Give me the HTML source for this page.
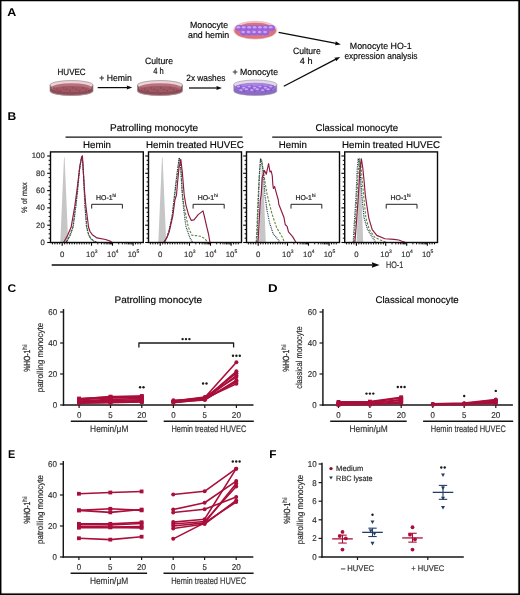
<!DOCTYPE html>
<html><head><meta charset="utf-8"><title>Figure</title>
<style>
html,body{margin:0;padding:0;background:#fff;width:520px;height:595px;overflow:hidden}
svg{display:block}
text{-webkit-font-smoothing:antialiased;text-rendering:geometricPrecision}
text{font-family:"Liberation Sans", sans-serif}
</style></head>
<body><svg style="will-change:transform" width="520" height="595" viewBox="0 0 520 595">
<rect x="0" y="0" width="520" height="595" fill="#fff"/>
<text x="7.29" y="15.75" font-size="11.2" textLength="9.03" lengthAdjust="spacingAndGlyphs" font-weight="bold" fill="#000">A</text>
<path d="M50.00,85.10 L50.00,90.90 A21.50,4.60 0 0 0 93.00,90.90 L93.00,85.10 Z" fill="#8a4c56" stroke="#8a8085" stroke-width="0.6"/>
<ellipse cx="71.50" cy="85.10" rx="21.50" ry="4.60" fill="#edd3d6" stroke="#8a8085" stroke-width="0.6"/>
<ellipse cx="71.50" cy="87.70" rx="20.10" ry="4.40" fill="#b8727b"/>
<ellipse cx="71.50" cy="89.10" rx="18.50" ry="3.00" fill="#98505c" opacity="0.75"/>
<ellipse cx="54.00" cy="87.90" rx="1.0" ry="0.6" fill="#7a3642" opacity="0.6"/>
<ellipse cx="57.20" cy="89.30" rx="1.0" ry="0.6" fill="#7a3642" opacity="0.6"/>
<ellipse cx="60.40" cy="90.70" rx="1.0" ry="0.6" fill="#7a3642" opacity="0.6"/>
<ellipse cx="63.60" cy="87.90" rx="1.0" ry="0.6" fill="#7a3642" opacity="0.6"/>
<ellipse cx="66.80" cy="89.30" rx="1.0" ry="0.6" fill="#7a3642" opacity="0.6"/>
<ellipse cx="70.00" cy="90.70" rx="1.0" ry="0.6" fill="#7a3642" opacity="0.6"/>
<ellipse cx="73.20" cy="87.90" rx="1.0" ry="0.6" fill="#7a3642" opacity="0.6"/>
<ellipse cx="76.40" cy="89.30" rx="1.0" ry="0.6" fill="#7a3642" opacity="0.6"/>
<ellipse cx="79.60" cy="90.70" rx="1.0" ry="0.6" fill="#7a3642" opacity="0.6"/>
<ellipse cx="82.80" cy="87.90" rx="1.0" ry="0.6" fill="#7a3642" opacity="0.6"/>
<ellipse cx="86.00" cy="89.30" rx="1.0" ry="0.6" fill="#7a3642" opacity="0.6"/>
<ellipse cx="89.20" cy="90.70" rx="1.0" ry="0.6" fill="#7a3642" opacity="0.6"/>
<path d="M51.00,91.40 A20.50,4.00 0 0 0 92.00,91.40" fill="none" stroke="#c4929b" stroke-width="0.6"/>
<path d="M137.50,85.10 L137.50,90.90 A22.50,4.60 0 0 0 182.50,90.90 L182.50,85.10 Z" fill="#8a4c56" stroke="#8a8085" stroke-width="0.6"/>
<ellipse cx="160.00" cy="85.10" rx="22.50" ry="4.60" fill="#edd3d6" stroke="#8a8085" stroke-width="0.6"/>
<ellipse cx="160.00" cy="87.70" rx="21.10" ry="4.40" fill="#b8727b"/>
<ellipse cx="160.00" cy="89.10" rx="19.50" ry="3.00" fill="#98505c" opacity="0.75"/>
<ellipse cx="141.50" cy="87.90" rx="1.0" ry="0.6" fill="#7a3642" opacity="0.6"/>
<ellipse cx="144.70" cy="89.30" rx="1.0" ry="0.6" fill="#7a3642" opacity="0.6"/>
<ellipse cx="147.90" cy="90.70" rx="1.0" ry="0.6" fill="#7a3642" opacity="0.6"/>
<ellipse cx="151.10" cy="87.90" rx="1.0" ry="0.6" fill="#7a3642" opacity="0.6"/>
<ellipse cx="154.30" cy="89.30" rx="1.0" ry="0.6" fill="#7a3642" opacity="0.6"/>
<ellipse cx="157.50" cy="90.70" rx="1.0" ry="0.6" fill="#7a3642" opacity="0.6"/>
<ellipse cx="160.70" cy="87.90" rx="1.0" ry="0.6" fill="#7a3642" opacity="0.6"/>
<ellipse cx="163.90" cy="89.30" rx="1.0" ry="0.6" fill="#7a3642" opacity="0.6"/>
<ellipse cx="167.10" cy="90.70" rx="1.0" ry="0.6" fill="#7a3642" opacity="0.6"/>
<ellipse cx="170.30" cy="87.90" rx="1.0" ry="0.6" fill="#7a3642" opacity="0.6"/>
<ellipse cx="173.50" cy="89.30" rx="1.0" ry="0.6" fill="#7a3642" opacity="0.6"/>
<ellipse cx="176.70" cy="90.70" rx="1.0" ry="0.6" fill="#7a3642" opacity="0.6"/>
<path d="M138.50,91.40 A21.50,4.00 0 0 0 181.50,91.40" fill="none" stroke="#c4929b" stroke-width="0.6"/>
<path d="M233.80,84.60 L233.80,90.90 A21.50,4.60 0 0 0 276.80,90.90 L276.80,84.60 Z" fill="#8a6cc0" stroke="#9a90a8" stroke-width="0.6"/>
<ellipse cx="255.30" cy="84.60" rx="21.50" ry="4.60" fill="#e4dae6" stroke="#9a90a8" stroke-width="0.6"/>
<ellipse cx="255.30" cy="87.20" rx="20.10" ry="4.40" fill="#a684e0"/>
<ellipse cx="239.00" cy="87.00" rx="3.1" ry="2.1" fill="#8c5cd6"/>
<ellipse cx="238.40" cy="86.40" rx="1.8" ry="1.0" fill="#c4aaf0"/>
<ellipse cx="244.40" cy="88.40" rx="3.1" ry="2.1" fill="#8c5cd6"/>
<ellipse cx="243.80" cy="87.80" rx="1.8" ry="1.0" fill="#c4aaf0"/>
<ellipse cx="249.80" cy="87.00" rx="3.1" ry="2.1" fill="#8c5cd6"/>
<ellipse cx="249.20" cy="86.40" rx="1.8" ry="1.0" fill="#c4aaf0"/>
<ellipse cx="255.20" cy="88.40" rx="3.1" ry="2.1" fill="#8c5cd6"/>
<ellipse cx="254.60" cy="87.80" rx="1.8" ry="1.0" fill="#c4aaf0"/>
<ellipse cx="260.60" cy="87.00" rx="3.1" ry="2.1" fill="#8c5cd6"/>
<ellipse cx="260.00" cy="86.40" rx="1.8" ry="1.0" fill="#c4aaf0"/>
<ellipse cx="266.00" cy="88.40" rx="3.1" ry="2.1" fill="#8c5cd6"/>
<ellipse cx="265.40" cy="87.80" rx="1.8" ry="1.0" fill="#c4aaf0"/>
<ellipse cx="271.40" cy="87.00" rx="3.1" ry="2.1" fill="#8c5cd6"/>
<ellipse cx="270.80" cy="86.40" rx="1.8" ry="1.0" fill="#c4aaf0"/>
<ellipse cx="241.60" cy="90.60" rx="3.0" ry="1.9" fill="#9464da"/>
<ellipse cx="241.00" cy="90.10" rx="1.7" ry="0.9" fill="#c8b0f2"/>
<circle cx="244.30" cy="91.00" r="0.7" fill="#6a3f58" opacity="0.8"/>
<ellipse cx="247.00" cy="89.70" rx="3.0" ry="1.9" fill="#9464da"/>
<ellipse cx="246.40" cy="89.20" rx="1.7" ry="0.9" fill="#c8b0f2"/>
<circle cx="249.70" cy="90.10" r="0.7" fill="#6a3f58" opacity="0.8"/>
<ellipse cx="252.40" cy="90.60" rx="3.0" ry="1.9" fill="#9464da"/>
<ellipse cx="251.80" cy="90.10" rx="1.7" ry="0.9" fill="#c8b0f2"/>
<circle cx="255.10" cy="91.00" r="0.7" fill="#6a3f58" opacity="0.8"/>
<ellipse cx="257.80" cy="89.70" rx="3.0" ry="1.9" fill="#9464da"/>
<ellipse cx="257.20" cy="89.20" rx="1.7" ry="0.9" fill="#c8b0f2"/>
<circle cx="260.50" cy="90.10" r="0.7" fill="#6a3f58" opacity="0.8"/>
<ellipse cx="263.20" cy="90.60" rx="3.0" ry="1.9" fill="#9464da"/>
<ellipse cx="262.60" cy="90.10" rx="1.7" ry="0.9" fill="#c8b0f2"/>
<circle cx="265.90" cy="91.00" r="0.7" fill="#6a3f58" opacity="0.8"/>
<ellipse cx="268.60" cy="89.70" rx="3.0" ry="1.9" fill="#9464da"/>
<ellipse cx="268.00" cy="89.20" rx="1.7" ry="0.9" fill="#c8b0f2"/>
<circle cx="271.30" cy="90.10" r="0.7" fill="#6a3f58" opacity="0.8"/>
<ellipse cx="255.25" cy="30.10" rx="22.05" ry="9.30" fill="#f0c4c6"/>
<ellipse cx="255.25" cy="30.80" rx="20.85" ry="8.00" fill="#d9727a"/>
<ellipse cx="255.25" cy="33.50" rx="16.05" ry="3.90" fill="#e4826e" opacity="0.6"/>
<ellipse cx="239.00" cy="28.00" rx="3.6" ry="3.0" fill="#9a62de"/>
<ellipse cx="244.40" cy="28.00" rx="3.6" ry="3.0" fill="#9a62de"/>
<ellipse cx="249.80" cy="28.00" rx="3.6" ry="3.0" fill="#9a62de"/>
<ellipse cx="255.20" cy="28.00" rx="3.6" ry="3.0" fill="#9a62de"/>
<ellipse cx="260.60" cy="28.00" rx="3.6" ry="3.0" fill="#9a62de"/>
<ellipse cx="266.00" cy="28.00" rx="3.6" ry="3.0" fill="#9a62de"/>
<ellipse cx="271.40" cy="28.00" rx="3.6" ry="3.0" fill="#9a62de"/>
<ellipse cx="238.30" cy="27.20" rx="1.9" ry="1.3" fill="#c6a6f2"/>
<ellipse cx="243.70" cy="27.20" rx="1.9" ry="1.3" fill="#c6a6f2"/>
<ellipse cx="249.10" cy="27.20" rx="1.9" ry="1.3" fill="#c6a6f2"/>
<ellipse cx="254.50" cy="27.20" rx="1.9" ry="1.3" fill="#c6a6f2"/>
<ellipse cx="259.90" cy="27.20" rx="1.9" ry="1.3" fill="#c6a6f2"/>
<ellipse cx="265.30" cy="27.20" rx="1.9" ry="1.3" fill="#c6a6f2"/>
<ellipse cx="270.70" cy="27.20" rx="1.9" ry="1.3" fill="#c6a6f2"/>
<ellipse cx="243.80" cy="32.80" rx="3.6" ry="2.8" fill="#9a62de"/>
<ellipse cx="249.30" cy="32.80" rx="3.6" ry="2.8" fill="#9a62de"/>
<ellipse cx="254.80" cy="32.80" rx="3.6" ry="2.8" fill="#9a62de"/>
<ellipse cx="260.30" cy="32.80" rx="3.6" ry="2.8" fill="#9a62de"/>
<ellipse cx="265.80" cy="32.80" rx="3.6" ry="2.8" fill="#9a62de"/>
<ellipse cx="243.10" cy="32.00" rx="1.9" ry="1.2" fill="#c6a6f2"/>
<ellipse cx="248.60" cy="32.00" rx="1.9" ry="1.2" fill="#c6a6f2"/>
<ellipse cx="254.10" cy="32.00" rx="1.9" ry="1.2" fill="#c6a6f2"/>
<ellipse cx="259.60" cy="32.00" rx="1.9" ry="1.2" fill="#c6a6f2"/>
<ellipse cx="265.10" cy="32.00" rx="1.9" ry="1.2" fill="#c6a6f2"/>
<text x="190.00" y="27.90" font-size="9.1" textLength="38.20" lengthAdjust="spacingAndGlyphs" stroke="#231f20" stroke-width="0.18">Monocyte</text>
<text x="188.00" y="38.20" font-size="9.1" textLength="41.20" lengthAdjust="spacingAndGlyphs" stroke="#231f20" stroke-width="0.18">and hemin</text>
<text x="57.50" y="74.90" font-size="9.1" textLength="28.20" lengthAdjust="spacingAndGlyphs" stroke="#231f20" stroke-width="0.18">HUVEC</text>
<text x="99.30" y="81.20" font-size="9.1" textLength="32.50" lengthAdjust="spacingAndGlyphs" stroke="#231f20" stroke-width="0.18">+ Hemin</text>
<text x="145.00" y="63.70" font-size="9.1" textLength="28.00" lengthAdjust="spacingAndGlyphs" stroke="#231f20" stroke-width="0.18">Culture</text>
<text x="153.30" y="74.40" font-size="9.1" textLength="10.50" lengthAdjust="spacingAndGlyphs" stroke="#231f20" stroke-width="0.18">4 h</text>
<text x="186.30" y="81.40" font-size="9.1" textLength="39.20" lengthAdjust="spacingAndGlyphs" stroke="#231f20" stroke-width="0.18">2x washes</text>
<text x="232.50" y="74.90" font-size="9.1" textLength="45.50" lengthAdjust="spacingAndGlyphs" stroke="#231f20" stroke-width="0.18">+ Monocyte</text>
<text x="293.00" y="53.70" font-size="9.1" textLength="27.80" lengthAdjust="spacingAndGlyphs" stroke="#231f20" stroke-width="0.18">Culture</text>
<text x="299.80" y="63.90" font-size="9.1" textLength="12.70" lengthAdjust="spacingAndGlyphs" stroke="#231f20" stroke-width="0.18">4 h</text>
<text x="349.80" y="49.10" font-size="9.1" textLength="61.90" lengthAdjust="spacingAndGlyphs" stroke="#231f20" stroke-width="0.18">Monocyte HO-1</text>
<text x="344.40" y="59.30" font-size="9.1" textLength="73.10" lengthAdjust="spacingAndGlyphs" stroke="#231f20" stroke-width="0.18">expression analysis</text>
<line x1="97.70" y1="87.60" x2="127.50" y2="87.60" stroke="#0a0a0a" stroke-width="1.25"/>
<path d="M132.30,87.60 L126.70,89.60 L127.15,87.60 L126.70,85.60 Z" fill="#0a0a0a"/>
<line x1="189.00" y1="88.00" x2="217.20" y2="88.00" stroke="#0a0a0a" stroke-width="1.25"/>
<path d="M222.00,88.00 L216.40,90.00 L216.85,88.00 L216.40,86.00 Z" fill="#0a0a0a"/>
<line x1="278.60" y1="32.30" x2="336.09" y2="43.48" stroke="#0a0a0a" stroke-width="1.25"/>
<path d="M340.80,44.40 L334.92,45.29 L335.74,43.42 L335.68,41.37 Z" fill="#0a0a0a"/>
<line x1="283.80" y1="86.20" x2="335.94" y2="59.11" stroke="#0a0a0a" stroke-width="1.25"/>
<path d="M340.20,56.90 L336.15,61.26 L335.63,59.28 L334.31,57.71 Z" fill="#0a0a0a"/>
<text x="7.50" y="120.00" font-size="11.2" textLength="8.74" lengthAdjust="spacingAndGlyphs" font-weight="bold" fill="#000">B</text>
<text x="110.00" y="131.00" font-size="9.8" textLength="88.00" lengthAdjust="spacingAndGlyphs" stroke="#231f20" stroke-width="0.18">Patrolling monocyte</text>
<text x="315.50" y="131.00" font-size="9.8" textLength="82.50" lengthAdjust="spacingAndGlyphs" stroke="#231f20" stroke-width="0.18">Classical monocyte</text>
<line x1="65.50" y1="137.20" x2="242.50" y2="137.20" stroke="#111" stroke-width="1.2"/>
<line x1="272.20" y1="137.20" x2="441.80" y2="137.20" stroke="#111" stroke-width="1.2"/>
<text x="83.00" y="148.00" font-size="9.8" textLength="28.00" lengthAdjust="spacingAndGlyphs" stroke="#231f20" stroke-width="0.18">Hemin</text>
<text x="146.00" y="148.00" font-size="9.8" textLength="97.80" lengthAdjust="spacingAndGlyphs" stroke="#231f20" stroke-width="0.18">Hemin treated HUVEC</text>
<text x="278.80" y="148.00" font-size="9.8" textLength="28.00" lengthAdjust="spacingAndGlyphs" stroke="#231f20" stroke-width="0.18">Hemin</text>
<text x="342.00" y="148.00" font-size="9.8" textLength="98.00" lengthAdjust="spacingAndGlyphs" stroke="#231f20" stroke-width="0.18">Hemin treated HUVEC</text>
<line x1="47.20" y1="242.50" x2="50.50" y2="242.50" stroke="#000" stroke-width="1.1"/>
<line x1="48.60" y1="238.18" x2="50.50" y2="238.18" stroke="#000" stroke-width="1.0"/>
<line x1="48.60" y1="233.85" x2="50.50" y2="233.85" stroke="#000" stroke-width="1.0"/>
<line x1="48.60" y1="229.53" x2="50.50" y2="229.53" stroke="#000" stroke-width="1.0"/>
<line x1="47.20" y1="225.20" x2="50.50" y2="225.20" stroke="#000" stroke-width="1.1"/>
<line x1="48.60" y1="220.88" x2="50.50" y2="220.88" stroke="#000" stroke-width="1.0"/>
<line x1="48.60" y1="216.55" x2="50.50" y2="216.55" stroke="#000" stroke-width="1.0"/>
<line x1="48.60" y1="212.22" x2="50.50" y2="212.22" stroke="#000" stroke-width="1.0"/>
<line x1="47.20" y1="207.90" x2="50.50" y2="207.90" stroke="#000" stroke-width="1.1"/>
<line x1="48.60" y1="203.57" x2="50.50" y2="203.57" stroke="#000" stroke-width="1.0"/>
<line x1="48.60" y1="199.25" x2="50.50" y2="199.25" stroke="#000" stroke-width="1.0"/>
<line x1="48.60" y1="194.93" x2="50.50" y2="194.93" stroke="#000" stroke-width="1.0"/>
<line x1="47.20" y1="190.60" x2="50.50" y2="190.60" stroke="#000" stroke-width="1.1"/>
<line x1="48.60" y1="186.28" x2="50.50" y2="186.28" stroke="#000" stroke-width="1.0"/>
<line x1="48.60" y1="181.95" x2="50.50" y2="181.95" stroke="#000" stroke-width="1.0"/>
<line x1="48.60" y1="177.62" x2="50.50" y2="177.62" stroke="#000" stroke-width="1.0"/>
<line x1="47.20" y1="173.30" x2="50.50" y2="173.30" stroke="#000" stroke-width="1.1"/>
<line x1="48.60" y1="168.97" x2="50.50" y2="168.97" stroke="#000" stroke-width="1.0"/>
<line x1="48.60" y1="164.65" x2="50.50" y2="164.65" stroke="#000" stroke-width="1.0"/>
<line x1="48.60" y1="160.32" x2="50.50" y2="160.32" stroke="#000" stroke-width="1.0"/>
<line x1="47.20" y1="156.00" x2="50.50" y2="156.00" stroke="#000" stroke-width="1.1"/>
<line x1="145.20" y1="242.50" x2="148.50" y2="242.50" stroke="#000" stroke-width="1.1"/>
<line x1="146.60" y1="238.18" x2="148.50" y2="238.18" stroke="#000" stroke-width="1.0"/>
<line x1="146.60" y1="233.85" x2="148.50" y2="233.85" stroke="#000" stroke-width="1.0"/>
<line x1="146.60" y1="229.53" x2="148.50" y2="229.53" stroke="#000" stroke-width="1.0"/>
<line x1="145.20" y1="225.20" x2="148.50" y2="225.20" stroke="#000" stroke-width="1.1"/>
<line x1="146.60" y1="220.88" x2="148.50" y2="220.88" stroke="#000" stroke-width="1.0"/>
<line x1="146.60" y1="216.55" x2="148.50" y2="216.55" stroke="#000" stroke-width="1.0"/>
<line x1="146.60" y1="212.22" x2="148.50" y2="212.22" stroke="#000" stroke-width="1.0"/>
<line x1="145.20" y1="207.90" x2="148.50" y2="207.90" stroke="#000" stroke-width="1.1"/>
<line x1="146.60" y1="203.57" x2="148.50" y2="203.57" stroke="#000" stroke-width="1.0"/>
<line x1="146.60" y1="199.25" x2="148.50" y2="199.25" stroke="#000" stroke-width="1.0"/>
<line x1="146.60" y1="194.93" x2="148.50" y2="194.93" stroke="#000" stroke-width="1.0"/>
<line x1="145.20" y1="190.60" x2="148.50" y2="190.60" stroke="#000" stroke-width="1.1"/>
<line x1="146.60" y1="186.28" x2="148.50" y2="186.28" stroke="#000" stroke-width="1.0"/>
<line x1="146.60" y1="181.95" x2="148.50" y2="181.95" stroke="#000" stroke-width="1.0"/>
<line x1="146.60" y1="177.62" x2="148.50" y2="177.62" stroke="#000" stroke-width="1.0"/>
<line x1="145.20" y1="173.30" x2="148.50" y2="173.30" stroke="#000" stroke-width="1.1"/>
<line x1="146.60" y1="168.97" x2="148.50" y2="168.97" stroke="#000" stroke-width="1.0"/>
<line x1="146.60" y1="164.65" x2="148.50" y2="164.65" stroke="#000" stroke-width="1.0"/>
<line x1="146.60" y1="160.32" x2="148.50" y2="160.32" stroke="#000" stroke-width="1.0"/>
<line x1="145.20" y1="156.00" x2="148.50" y2="156.00" stroke="#000" stroke-width="1.1"/>
<line x1="243.20" y1="242.50" x2="246.50" y2="242.50" stroke="#000" stroke-width="1.1"/>
<line x1="244.60" y1="238.18" x2="246.50" y2="238.18" stroke="#000" stroke-width="1.0"/>
<line x1="244.60" y1="233.85" x2="246.50" y2="233.85" stroke="#000" stroke-width="1.0"/>
<line x1="244.60" y1="229.53" x2="246.50" y2="229.53" stroke="#000" stroke-width="1.0"/>
<line x1="243.20" y1="225.20" x2="246.50" y2="225.20" stroke="#000" stroke-width="1.1"/>
<line x1="244.60" y1="220.88" x2="246.50" y2="220.88" stroke="#000" stroke-width="1.0"/>
<line x1="244.60" y1="216.55" x2="246.50" y2="216.55" stroke="#000" stroke-width="1.0"/>
<line x1="244.60" y1="212.22" x2="246.50" y2="212.22" stroke="#000" stroke-width="1.0"/>
<line x1="243.20" y1="207.90" x2="246.50" y2="207.90" stroke="#000" stroke-width="1.1"/>
<line x1="244.60" y1="203.57" x2="246.50" y2="203.57" stroke="#000" stroke-width="1.0"/>
<line x1="244.60" y1="199.25" x2="246.50" y2="199.25" stroke="#000" stroke-width="1.0"/>
<line x1="244.60" y1="194.93" x2="246.50" y2="194.93" stroke="#000" stroke-width="1.0"/>
<line x1="243.20" y1="190.60" x2="246.50" y2="190.60" stroke="#000" stroke-width="1.1"/>
<line x1="244.60" y1="186.28" x2="246.50" y2="186.28" stroke="#000" stroke-width="1.0"/>
<line x1="244.60" y1="181.95" x2="246.50" y2="181.95" stroke="#000" stroke-width="1.0"/>
<line x1="244.60" y1="177.62" x2="246.50" y2="177.62" stroke="#000" stroke-width="1.0"/>
<line x1="243.20" y1="173.30" x2="246.50" y2="173.30" stroke="#000" stroke-width="1.1"/>
<line x1="244.60" y1="168.97" x2="246.50" y2="168.97" stroke="#000" stroke-width="1.0"/>
<line x1="244.60" y1="164.65" x2="246.50" y2="164.65" stroke="#000" stroke-width="1.0"/>
<line x1="244.60" y1="160.32" x2="246.50" y2="160.32" stroke="#000" stroke-width="1.0"/>
<line x1="243.20" y1="156.00" x2="246.50" y2="156.00" stroke="#000" stroke-width="1.1"/>
<line x1="341.40" y1="242.50" x2="344.70" y2="242.50" stroke="#000" stroke-width="1.1"/>
<line x1="342.80" y1="238.18" x2="344.70" y2="238.18" stroke="#000" stroke-width="1.0"/>
<line x1="342.80" y1="233.85" x2="344.70" y2="233.85" stroke="#000" stroke-width="1.0"/>
<line x1="342.80" y1="229.53" x2="344.70" y2="229.53" stroke="#000" stroke-width="1.0"/>
<line x1="341.40" y1="225.20" x2="344.70" y2="225.20" stroke="#000" stroke-width="1.1"/>
<line x1="342.80" y1="220.88" x2="344.70" y2="220.88" stroke="#000" stroke-width="1.0"/>
<line x1="342.80" y1="216.55" x2="344.70" y2="216.55" stroke="#000" stroke-width="1.0"/>
<line x1="342.80" y1="212.22" x2="344.70" y2="212.22" stroke="#000" stroke-width="1.0"/>
<line x1="341.40" y1="207.90" x2="344.70" y2="207.90" stroke="#000" stroke-width="1.1"/>
<line x1="342.80" y1="203.57" x2="344.70" y2="203.57" stroke="#000" stroke-width="1.0"/>
<line x1="342.80" y1="199.25" x2="344.70" y2="199.25" stroke="#000" stroke-width="1.0"/>
<line x1="342.80" y1="194.93" x2="344.70" y2="194.93" stroke="#000" stroke-width="1.0"/>
<line x1="341.40" y1="190.60" x2="344.70" y2="190.60" stroke="#000" stroke-width="1.1"/>
<line x1="342.80" y1="186.28" x2="344.70" y2="186.28" stroke="#000" stroke-width="1.0"/>
<line x1="342.80" y1="181.95" x2="344.70" y2="181.95" stroke="#000" stroke-width="1.0"/>
<line x1="342.80" y1="177.62" x2="344.70" y2="177.62" stroke="#000" stroke-width="1.0"/>
<line x1="341.40" y1="173.30" x2="344.70" y2="173.30" stroke="#000" stroke-width="1.1"/>
<line x1="342.80" y1="168.97" x2="344.70" y2="168.97" stroke="#000" stroke-width="1.0"/>
<line x1="342.80" y1="164.65" x2="344.70" y2="164.65" stroke="#000" stroke-width="1.0"/>
<line x1="342.80" y1="160.32" x2="344.70" y2="160.32" stroke="#000" stroke-width="1.0"/>
<line x1="341.40" y1="156.00" x2="344.70" y2="156.00" stroke="#000" stroke-width="1.1"/>
<text x="44.80" y="158.30" font-size="7.8" text-anchor="end" fill="#333" stroke="#333" stroke-width="0.18">100</text>
<text x="44.80" y="175.60" font-size="7.8" text-anchor="end" fill="#333" stroke="#333" stroke-width="0.18">80</text>
<text x="44.80" y="192.90" font-size="7.8" text-anchor="end" fill="#333" stroke="#333" stroke-width="0.18">60</text>
<text x="44.80" y="210.20" font-size="7.8" text-anchor="end" fill="#333" stroke="#333" stroke-width="0.18">40</text>
<text x="44.80" y="227.50" font-size="7.8" text-anchor="end" fill="#333" stroke="#333" stroke-width="0.18">20</text>
<text x="44.80" y="244.80" font-size="7.8" text-anchor="end" fill="#333" stroke="#333" stroke-width="0.18">0</text>
<text x="27.40" y="197.60" font-size="7.9" textLength="30.70" lengthAdjust="spacingAndGlyphs" text-anchor="middle" fill="#333" stroke="#333" stroke-width="0.18" transform="rotate(-90 27.40 197.60)">% of max</text>
<line x1="62.20" y1="242.50" x2="62.20" y2="245.70" stroke="#000" stroke-width="1.1"/>
<line x1="91.50" y1="242.50" x2="91.50" y2="245.70" stroke="#000" stroke-width="1.1"/>
<line x1="112.50" y1="242.50" x2="112.50" y2="245.70" stroke="#000" stroke-width="1.1"/>
<line x1="133.10" y1="242.50" x2="133.10" y2="245.70" stroke="#000" stroke-width="1.1"/>
<line x1="97.82" y1="242.50" x2="97.82" y2="244.40" stroke="#111" stroke-width="1.0"/>
<line x1="101.52" y1="242.50" x2="101.52" y2="244.40" stroke="#111" stroke-width="1.0"/>
<line x1="104.14" y1="242.50" x2="104.14" y2="244.40" stroke="#111" stroke-width="1.0"/>
<line x1="106.18" y1="242.50" x2="106.18" y2="244.40" stroke="#111" stroke-width="1.0"/>
<line x1="107.84" y1="242.50" x2="107.84" y2="244.40" stroke="#111" stroke-width="1.0"/>
<line x1="109.25" y1="242.50" x2="109.25" y2="244.40" stroke="#111" stroke-width="1.0"/>
<line x1="110.46" y1="242.50" x2="110.46" y2="244.40" stroke="#111" stroke-width="1.0"/>
<line x1="111.54" y1="242.50" x2="111.54" y2="244.40" stroke="#111" stroke-width="1.0"/>
<line x1="118.70" y1="242.50" x2="118.70" y2="244.40" stroke="#111" stroke-width="1.0"/>
<line x1="122.33" y1="242.50" x2="122.33" y2="244.40" stroke="#111" stroke-width="1.0"/>
<line x1="124.90" y1="242.50" x2="124.90" y2="244.40" stroke="#111" stroke-width="1.0"/>
<line x1="126.90" y1="242.50" x2="126.90" y2="244.40" stroke="#111" stroke-width="1.0"/>
<line x1="128.53" y1="242.50" x2="128.53" y2="244.40" stroke="#111" stroke-width="1.0"/>
<line x1="129.91" y1="242.50" x2="129.91" y2="244.40" stroke="#111" stroke-width="1.0"/>
<line x1="131.10" y1="242.50" x2="131.10" y2="244.40" stroke="#111" stroke-width="1.0"/>
<line x1="132.16" y1="242.50" x2="132.16" y2="244.40" stroke="#111" stroke-width="1.0"/>
<line x1="52.40" y1="242.50" x2="52.40" y2="244.40" stroke="#111" stroke-width="1.0"/>
<line x1="54.85" y1="242.50" x2="54.85" y2="244.40" stroke="#111" stroke-width="1.0"/>
<line x1="57.30" y1="242.50" x2="57.30" y2="244.40" stroke="#111" stroke-width="1.0"/>
<line x1="59.75" y1="242.50" x2="59.75" y2="244.40" stroke="#111" stroke-width="1.0"/>
<line x1="64.65" y1="242.50" x2="64.65" y2="244.40" stroke="#111" stroke-width="1.0"/>
<line x1="67.10" y1="242.50" x2="67.10" y2="244.40" stroke="#111" stroke-width="1.0"/>
<line x1="69.55" y1="242.50" x2="69.55" y2="244.40" stroke="#111" stroke-width="1.0"/>
<line x1="72.00" y1="242.50" x2="72.00" y2="244.40" stroke="#111" stroke-width="1.0"/>
<line x1="74.45" y1="242.50" x2="74.45" y2="244.40" stroke="#111" stroke-width="1.0"/>
<line x1="76.90" y1="242.50" x2="76.90" y2="244.40" stroke="#111" stroke-width="1.0"/>
<line x1="79.35" y1="242.50" x2="79.35" y2="244.40" stroke="#111" stroke-width="1.0"/>
<line x1="81.80" y1="242.50" x2="81.80" y2="244.40" stroke="#111" stroke-width="1.0"/>
<line x1="84.25" y1="242.50" x2="84.25" y2="244.40" stroke="#111" stroke-width="1.0"/>
<line x1="86.70" y1="242.50" x2="86.70" y2="244.40" stroke="#111" stroke-width="1.0"/>
<line x1="89.15" y1="242.50" x2="89.15" y2="244.40" stroke="#111" stroke-width="1.0"/>
<line x1="135.50" y1="242.50" x2="135.50" y2="244.40" stroke="#111" stroke-width="1.0"/>
<line x1="137.90" y1="242.50" x2="137.90" y2="244.40" stroke="#111" stroke-width="1.0"/>
<line x1="140.30" y1="242.50" x2="140.30" y2="244.40" stroke="#111" stroke-width="1.0"/>
<text x="62.20" y="256.70" font-size="7.8" text-anchor="middle" fill="#333" stroke="#333" stroke-width="0.18">0</text>
<text x="86.10" y="256.7" font-size="7.8" fill="#333" stroke="#333" stroke-width="0.15">10<tspan font-size="5.0" dy="-3.6">3</tspan></text>
<text x="107.10" y="256.7" font-size="7.8" fill="#333" stroke="#333" stroke-width="0.15">10<tspan font-size="5.0" dy="-3.6">4</tspan></text>
<text x="127.70" y="256.7" font-size="7.8" fill="#333" stroke="#333" stroke-width="0.15">10<tspan font-size="5.0" dy="-3.6">5</tspan></text>
<line x1="160.20" y1="242.50" x2="160.20" y2="245.70" stroke="#000" stroke-width="1.1"/>
<line x1="189.50" y1="242.50" x2="189.50" y2="245.70" stroke="#000" stroke-width="1.1"/>
<line x1="210.50" y1="242.50" x2="210.50" y2="245.70" stroke="#000" stroke-width="1.1"/>
<line x1="231.10" y1="242.50" x2="231.10" y2="245.70" stroke="#000" stroke-width="1.1"/>
<line x1="195.82" y1="242.50" x2="195.82" y2="244.40" stroke="#111" stroke-width="1.0"/>
<line x1="199.52" y1="242.50" x2="199.52" y2="244.40" stroke="#111" stroke-width="1.0"/>
<line x1="202.14" y1="242.50" x2="202.14" y2="244.40" stroke="#111" stroke-width="1.0"/>
<line x1="204.18" y1="242.50" x2="204.18" y2="244.40" stroke="#111" stroke-width="1.0"/>
<line x1="205.84" y1="242.50" x2="205.84" y2="244.40" stroke="#111" stroke-width="1.0"/>
<line x1="207.25" y1="242.50" x2="207.25" y2="244.40" stroke="#111" stroke-width="1.0"/>
<line x1="208.46" y1="242.50" x2="208.46" y2="244.40" stroke="#111" stroke-width="1.0"/>
<line x1="209.54" y1="242.50" x2="209.54" y2="244.40" stroke="#111" stroke-width="1.0"/>
<line x1="216.70" y1="242.50" x2="216.70" y2="244.40" stroke="#111" stroke-width="1.0"/>
<line x1="220.33" y1="242.50" x2="220.33" y2="244.40" stroke="#111" stroke-width="1.0"/>
<line x1="222.90" y1="242.50" x2="222.90" y2="244.40" stroke="#111" stroke-width="1.0"/>
<line x1="224.90" y1="242.50" x2="224.90" y2="244.40" stroke="#111" stroke-width="1.0"/>
<line x1="226.53" y1="242.50" x2="226.53" y2="244.40" stroke="#111" stroke-width="1.0"/>
<line x1="227.91" y1="242.50" x2="227.91" y2="244.40" stroke="#111" stroke-width="1.0"/>
<line x1="229.10" y1="242.50" x2="229.10" y2="244.40" stroke="#111" stroke-width="1.0"/>
<line x1="230.16" y1="242.50" x2="230.16" y2="244.40" stroke="#111" stroke-width="1.0"/>
<line x1="150.40" y1="242.50" x2="150.40" y2="244.40" stroke="#111" stroke-width="1.0"/>
<line x1="152.85" y1="242.50" x2="152.85" y2="244.40" stroke="#111" stroke-width="1.0"/>
<line x1="155.30" y1="242.50" x2="155.30" y2="244.40" stroke="#111" stroke-width="1.0"/>
<line x1="157.75" y1="242.50" x2="157.75" y2="244.40" stroke="#111" stroke-width="1.0"/>
<line x1="162.65" y1="242.50" x2="162.65" y2="244.40" stroke="#111" stroke-width="1.0"/>
<line x1="165.10" y1="242.50" x2="165.10" y2="244.40" stroke="#111" stroke-width="1.0"/>
<line x1="167.55" y1="242.50" x2="167.55" y2="244.40" stroke="#111" stroke-width="1.0"/>
<line x1="170.00" y1="242.50" x2="170.00" y2="244.40" stroke="#111" stroke-width="1.0"/>
<line x1="172.45" y1="242.50" x2="172.45" y2="244.40" stroke="#111" stroke-width="1.0"/>
<line x1="174.90" y1="242.50" x2="174.90" y2="244.40" stroke="#111" stroke-width="1.0"/>
<line x1="177.35" y1="242.50" x2="177.35" y2="244.40" stroke="#111" stroke-width="1.0"/>
<line x1="179.80" y1="242.50" x2="179.80" y2="244.40" stroke="#111" stroke-width="1.0"/>
<line x1="182.25" y1="242.50" x2="182.25" y2="244.40" stroke="#111" stroke-width="1.0"/>
<line x1="184.70" y1="242.50" x2="184.70" y2="244.40" stroke="#111" stroke-width="1.0"/>
<line x1="187.15" y1="242.50" x2="187.15" y2="244.40" stroke="#111" stroke-width="1.0"/>
<line x1="233.50" y1="242.50" x2="233.50" y2="244.40" stroke="#111" stroke-width="1.0"/>
<line x1="235.90" y1="242.50" x2="235.90" y2="244.40" stroke="#111" stroke-width="1.0"/>
<line x1="238.30" y1="242.50" x2="238.30" y2="244.40" stroke="#111" stroke-width="1.0"/>
<text x="160.20" y="256.70" font-size="7.8" text-anchor="middle" fill="#333" stroke="#333" stroke-width="0.18">0</text>
<text x="184.10" y="256.7" font-size="7.8" fill="#333" stroke="#333" stroke-width="0.15">10<tspan font-size="5.0" dy="-3.6">3</tspan></text>
<text x="205.10" y="256.7" font-size="7.8" fill="#333" stroke="#333" stroke-width="0.15">10<tspan font-size="5.0" dy="-3.6">4</tspan></text>
<text x="225.70" y="256.7" font-size="7.8" fill="#333" stroke="#333" stroke-width="0.15">10<tspan font-size="5.0" dy="-3.6">5</tspan></text>
<line x1="258.20" y1="242.50" x2="258.20" y2="245.70" stroke="#000" stroke-width="1.1"/>
<line x1="287.50" y1="242.50" x2="287.50" y2="245.70" stroke="#000" stroke-width="1.1"/>
<line x1="308.50" y1="242.50" x2="308.50" y2="245.70" stroke="#000" stroke-width="1.1"/>
<line x1="329.10" y1="242.50" x2="329.10" y2="245.70" stroke="#000" stroke-width="1.1"/>
<line x1="293.82" y1="242.50" x2="293.82" y2="244.40" stroke="#111" stroke-width="1.0"/>
<line x1="297.52" y1="242.50" x2="297.52" y2="244.40" stroke="#111" stroke-width="1.0"/>
<line x1="300.14" y1="242.50" x2="300.14" y2="244.40" stroke="#111" stroke-width="1.0"/>
<line x1="302.18" y1="242.50" x2="302.18" y2="244.40" stroke="#111" stroke-width="1.0"/>
<line x1="303.84" y1="242.50" x2="303.84" y2="244.40" stroke="#111" stroke-width="1.0"/>
<line x1="305.25" y1="242.50" x2="305.25" y2="244.40" stroke="#111" stroke-width="1.0"/>
<line x1="306.46" y1="242.50" x2="306.46" y2="244.40" stroke="#111" stroke-width="1.0"/>
<line x1="307.54" y1="242.50" x2="307.54" y2="244.40" stroke="#111" stroke-width="1.0"/>
<line x1="314.70" y1="242.50" x2="314.70" y2="244.40" stroke="#111" stroke-width="1.0"/>
<line x1="318.33" y1="242.50" x2="318.33" y2="244.40" stroke="#111" stroke-width="1.0"/>
<line x1="320.90" y1="242.50" x2="320.90" y2="244.40" stroke="#111" stroke-width="1.0"/>
<line x1="322.90" y1="242.50" x2="322.90" y2="244.40" stroke="#111" stroke-width="1.0"/>
<line x1="324.53" y1="242.50" x2="324.53" y2="244.40" stroke="#111" stroke-width="1.0"/>
<line x1="325.91" y1="242.50" x2="325.91" y2="244.40" stroke="#111" stroke-width="1.0"/>
<line x1="327.10" y1="242.50" x2="327.10" y2="244.40" stroke="#111" stroke-width="1.0"/>
<line x1="328.16" y1="242.50" x2="328.16" y2="244.40" stroke="#111" stroke-width="1.0"/>
<line x1="248.40" y1="242.50" x2="248.40" y2="244.40" stroke="#111" stroke-width="1.0"/>
<line x1="250.85" y1="242.50" x2="250.85" y2="244.40" stroke="#111" stroke-width="1.0"/>
<line x1="253.30" y1="242.50" x2="253.30" y2="244.40" stroke="#111" stroke-width="1.0"/>
<line x1="255.75" y1="242.50" x2="255.75" y2="244.40" stroke="#111" stroke-width="1.0"/>
<line x1="260.65" y1="242.50" x2="260.65" y2="244.40" stroke="#111" stroke-width="1.0"/>
<line x1="263.10" y1="242.50" x2="263.10" y2="244.40" stroke="#111" stroke-width="1.0"/>
<line x1="265.55" y1="242.50" x2="265.55" y2="244.40" stroke="#111" stroke-width="1.0"/>
<line x1="268.00" y1="242.50" x2="268.00" y2="244.40" stroke="#111" stroke-width="1.0"/>
<line x1="270.45" y1="242.50" x2="270.45" y2="244.40" stroke="#111" stroke-width="1.0"/>
<line x1="272.90" y1="242.50" x2="272.90" y2="244.40" stroke="#111" stroke-width="1.0"/>
<line x1="275.35" y1="242.50" x2="275.35" y2="244.40" stroke="#111" stroke-width="1.0"/>
<line x1="277.80" y1="242.50" x2="277.80" y2="244.40" stroke="#111" stroke-width="1.0"/>
<line x1="280.25" y1="242.50" x2="280.25" y2="244.40" stroke="#111" stroke-width="1.0"/>
<line x1="282.70" y1="242.50" x2="282.70" y2="244.40" stroke="#111" stroke-width="1.0"/>
<line x1="285.15" y1="242.50" x2="285.15" y2="244.40" stroke="#111" stroke-width="1.0"/>
<line x1="331.50" y1="242.50" x2="331.50" y2="244.40" stroke="#111" stroke-width="1.0"/>
<line x1="333.90" y1="242.50" x2="333.90" y2="244.40" stroke="#111" stroke-width="1.0"/>
<line x1="336.30" y1="242.50" x2="336.30" y2="244.40" stroke="#111" stroke-width="1.0"/>
<text x="258.20" y="256.70" font-size="7.8" text-anchor="middle" fill="#333" stroke="#333" stroke-width="0.18">0</text>
<text x="282.10" y="256.7" font-size="7.8" fill="#333" stroke="#333" stroke-width="0.15">10<tspan font-size="5.0" dy="-3.6">3</tspan></text>
<text x="303.10" y="256.7" font-size="7.8" fill="#333" stroke="#333" stroke-width="0.15">10<tspan font-size="5.0" dy="-3.6">4</tspan></text>
<text x="323.70" y="256.7" font-size="7.8" fill="#333" stroke="#333" stroke-width="0.15">10<tspan font-size="5.0" dy="-3.6">5</tspan></text>
<line x1="356.40" y1="242.50" x2="356.40" y2="245.70" stroke="#000" stroke-width="1.1"/>
<line x1="385.70" y1="242.50" x2="385.70" y2="245.70" stroke="#000" stroke-width="1.1"/>
<line x1="406.70" y1="242.50" x2="406.70" y2="245.70" stroke="#000" stroke-width="1.1"/>
<line x1="427.30" y1="242.50" x2="427.30" y2="245.70" stroke="#000" stroke-width="1.1"/>
<line x1="392.02" y1="242.50" x2="392.02" y2="244.40" stroke="#111" stroke-width="1.0"/>
<line x1="395.72" y1="242.50" x2="395.72" y2="244.40" stroke="#111" stroke-width="1.0"/>
<line x1="398.34" y1="242.50" x2="398.34" y2="244.40" stroke="#111" stroke-width="1.0"/>
<line x1="400.38" y1="242.50" x2="400.38" y2="244.40" stroke="#111" stroke-width="1.0"/>
<line x1="402.04" y1="242.50" x2="402.04" y2="244.40" stroke="#111" stroke-width="1.0"/>
<line x1="403.45" y1="242.50" x2="403.45" y2="244.40" stroke="#111" stroke-width="1.0"/>
<line x1="404.66" y1="242.50" x2="404.66" y2="244.40" stroke="#111" stroke-width="1.0"/>
<line x1="405.74" y1="242.50" x2="405.74" y2="244.40" stroke="#111" stroke-width="1.0"/>
<line x1="412.90" y1="242.50" x2="412.90" y2="244.40" stroke="#111" stroke-width="1.0"/>
<line x1="416.53" y1="242.50" x2="416.53" y2="244.40" stroke="#111" stroke-width="1.0"/>
<line x1="419.10" y1="242.50" x2="419.10" y2="244.40" stroke="#111" stroke-width="1.0"/>
<line x1="421.10" y1="242.50" x2="421.10" y2="244.40" stroke="#111" stroke-width="1.0"/>
<line x1="422.73" y1="242.50" x2="422.73" y2="244.40" stroke="#111" stroke-width="1.0"/>
<line x1="424.11" y1="242.50" x2="424.11" y2="244.40" stroke="#111" stroke-width="1.0"/>
<line x1="425.30" y1="242.50" x2="425.30" y2="244.40" stroke="#111" stroke-width="1.0"/>
<line x1="426.36" y1="242.50" x2="426.36" y2="244.40" stroke="#111" stroke-width="1.0"/>
<line x1="346.60" y1="242.50" x2="346.60" y2="244.40" stroke="#111" stroke-width="1.0"/>
<line x1="349.05" y1="242.50" x2="349.05" y2="244.40" stroke="#111" stroke-width="1.0"/>
<line x1="351.50" y1="242.50" x2="351.50" y2="244.40" stroke="#111" stroke-width="1.0"/>
<line x1="353.95" y1="242.50" x2="353.95" y2="244.40" stroke="#111" stroke-width="1.0"/>
<line x1="358.85" y1="242.50" x2="358.85" y2="244.40" stroke="#111" stroke-width="1.0"/>
<line x1="361.30" y1="242.50" x2="361.30" y2="244.40" stroke="#111" stroke-width="1.0"/>
<line x1="363.75" y1="242.50" x2="363.75" y2="244.40" stroke="#111" stroke-width="1.0"/>
<line x1="366.20" y1="242.50" x2="366.20" y2="244.40" stroke="#111" stroke-width="1.0"/>
<line x1="368.65" y1="242.50" x2="368.65" y2="244.40" stroke="#111" stroke-width="1.0"/>
<line x1="371.10" y1="242.50" x2="371.10" y2="244.40" stroke="#111" stroke-width="1.0"/>
<line x1="373.55" y1="242.50" x2="373.55" y2="244.40" stroke="#111" stroke-width="1.0"/>
<line x1="376.00" y1="242.50" x2="376.00" y2="244.40" stroke="#111" stroke-width="1.0"/>
<line x1="378.45" y1="242.50" x2="378.45" y2="244.40" stroke="#111" stroke-width="1.0"/>
<line x1="380.90" y1="242.50" x2="380.90" y2="244.40" stroke="#111" stroke-width="1.0"/>
<line x1="383.35" y1="242.50" x2="383.35" y2="244.40" stroke="#111" stroke-width="1.0"/>
<line x1="429.70" y1="242.50" x2="429.70" y2="244.40" stroke="#111" stroke-width="1.0"/>
<line x1="432.10" y1="242.50" x2="432.10" y2="244.40" stroke="#111" stroke-width="1.0"/>
<line x1="434.50" y1="242.50" x2="434.50" y2="244.40" stroke="#111" stroke-width="1.0"/>
<text x="356.40" y="256.70" font-size="7.8" text-anchor="middle" fill="#333" stroke="#333" stroke-width="0.18">0</text>
<text x="380.30" y="256.7" font-size="7.8" fill="#333" stroke="#333" stroke-width="0.15">10<tspan font-size="5.0" dy="-3.6">3</tspan></text>
<text x="401.30" y="256.7" font-size="7.8" fill="#333" stroke="#333" stroke-width="0.15">10<tspan font-size="5.0" dy="-3.6">4</tspan></text>
<text x="421.90" y="256.7" font-size="7.8" fill="#333" stroke="#333" stroke-width="0.15">10<tspan font-size="5.0" dy="-3.6">5</tspan></text>
<line x1="51.70" y1="265.00" x2="372.60" y2="265.00" stroke="#0a0a0a" stroke-width="1.35"/>
<path d="M379.60,265.00 L371.80,267.80 L372.42,265.00 L371.80,262.20 Z" fill="#0a0a0a"/>
<text x="386.00" y="268.00" font-size="9.4" textLength="17.30" lengthAdjust="spacingAndGlyphs" fill="#333" stroke="#333" stroke-width="0.18">HO-1</text>
<path d="M60.30,242.20 L64.00,157.40 L64.60,157.40 L68.20,242.20 Z" fill="#c6c6c6" stroke="none" stroke-width="0" stroke-linejoin="round"/>
<path d="M66.00,242.20 L69.50,236.00 L73.00,226.00 L75.60,206.00 L77.30,192.00 L79.30,170.00 L81.80,156.80 L82.80,163.00 L83.80,178.00 L85.20,206.00 L86.80,227.00 L89.00,235.50 L91.50,239.30 L94.50,241.20 L97.00,242.20" fill="none" stroke="#5f8a3c" stroke-width="1.1" stroke-linejoin="round" stroke-dasharray="2.4,1.4"/>
<path d="M66.30,242.20 L70.00,236.00 L73.20,227.00 L75.90,206.00 L77.50,192.00 L79.50,170.00 L81.60,156.30 L82.60,162.00 L83.50,175.00 L84.90,206.00 L86.50,227.00 L88.60,235.00 L91.00,239.00 L93.90,241.20 L96.00,242.20" fill="none" stroke="#1b3448" stroke-width="1.2" stroke-linejoin="round" stroke-dasharray="0.9,0.9"/>
<path d="M63.70,242.20 L67.40,235.80 L71.10,227.30 L74.80,206.20 L76.70,192.00 L78.20,180.00 L80.00,165.00 L81.50,158.00 L82.40,155.70 L83.00,165.00 L83.80,180.00 L84.60,192.00 L85.90,206.20 L88.60,227.30 L90.00,231.50 L92.30,234.70 L97.00,237.90 L105.50,239.50 L110.30,241.10 L111.90,242.20" fill="none" stroke="#8e1a40" stroke-width="1.15" stroke-linejoin="round"/>
<path d="M158.30,242.20 L162.00,157.40 L162.60,157.40 L166.20,242.20 Z" fill="#c6c6c6" stroke="none" stroke-width="0" stroke-linejoin="round"/>
<path d="M164.50,242.20 L167.00,237.00 L169.30,230.00 L172.50,214.00 L174.20,200.00 L176.50,180.00 L178.50,164.00 L179.50,158.20 L180.50,160.00 L182.50,195.00 L183.50,203.00 L185.00,210.90 L188.20,226.70 L190.00,231.00 L191.90,235.20 L196.00,235.60 L200.30,236.30 L204.60,238.40 L207.70,242.20" fill="none" stroke="#5f8a3c" stroke-width="1.1" stroke-linejoin="round" stroke-dasharray="2.4,1.4"/>
<path d="M164.50,242.20 L167.00,237.50 L169.00,231.00 L172.30,215.00 L173.90,200.00 L176.20,180.00 L178.30,164.00 L179.20,157.80 L180.30,162.00 L182.30,195.00 L183.90,210.90 L186.00,226.70 L189.70,237.30 L192.40,242.20" fill="none" stroke="#1b3448" stroke-width="1.2" stroke-linejoin="round" stroke-dasharray="0.9,0.9"/>
<path d="M163.80,242.20 L166.50,238.40 L169.10,232.00 L172.80,216.20 L174.90,200.00 L176.50,195.00 L177.50,183.00 L179.00,168.00 L180.80,159.40 L182.30,172.00 L184.20,195.00 L186.00,205.60 L188.70,215.10 L191.30,220.40 L194.00,219.90 L198.20,214.60 L203.00,210.90 L204.50,217.00 L206.70,226.70 L208.50,234.00 L209.90,242.20" fill="none" stroke="#8e1a40" stroke-width="1.15" stroke-linejoin="round"/>
<path d="M259.00,242.20 L262.00,160.00 L262.60,160.00 L265.80,242.20 Z" fill="#c6c6c6" stroke="none" stroke-width="0" stroke-linejoin="round"/>
<path d="M256.20,242.20 L257.00,225.00 L258.00,200.00 L259.20,175.00 L260.70,158.80 L262.00,163.00 L263.60,172.00 L265.50,185.00 L267.20,195.00 L271.90,213.50 L276.50,227.30 L282.50,237.50 L284.30,242.20" fill="none" stroke="#5f8a3c" stroke-width="1.1" stroke-linejoin="round" stroke-dasharray="2.4,1.4"/>
<path d="M257.00,242.20 L257.60,225.00 L258.50,200.00 L259.50,175.00 L260.50,158.50 L261.50,162.00 L263.10,170.50 L264.20,185.00 L264.90,195.00 L266.80,208.90 L269.50,222.70 L273.20,233.80 L277.90,239.30 L279.70,242.20" fill="none" stroke="#1b3448" stroke-width="1.2" stroke-linejoin="round" stroke-dasharray="0.9,0.9"/>
<path d="M258.00,242.20 L259.00,225.00 L260.30,200.00 L261.20,195.00 L262.20,177.90 L264.50,170.50 L266.30,174.20 L268.60,163.50 L270.00,172.00 L271.20,171.00 L272.30,176.00 L272.80,184.30 L273.40,188.50 L274.60,186.60 L276.50,193.60 L278.30,200.00 L278.80,204.20 L283.90,217.20 L285.20,224.50 L287.10,226.40 L288.50,231.90 L292.60,236.60 L295.90,242.20" fill="none" stroke="#8e1a40" stroke-width="1.15" stroke-linejoin="round"/>
<path d="M356.60,242.20 L359.60,158.00 L360.20,158.00 L363.20,242.20 Z" fill="#c6c6c6" stroke="none" stroke-width="0" stroke-linejoin="round"/>
<path d="M354.00,242.20 L355.50,220.00 L357.00,195.00 L358.30,170.00 L359.60,158.50 L361.00,166.00 L362.20,180.00 L363.60,195.00 L365.90,218.00 L369.30,229.60 L374.50,237.00 L380.30,240.00 L386.00,242.20" fill="none" stroke="#5f8a3c" stroke-width="1.1" stroke-linejoin="round" stroke-dasharray="2.4,1.4"/>
<path d="M353.20,242.20 L354.50,220.00 L356.10,195.00 L357.20,170.00 L358.20,158.50 L359.50,165.00 L360.80,180.00 L361.80,195.00 L364.10,218.00 L367.60,229.60 L372.20,237.00 L375.70,242.20" fill="none" stroke="#1b3448" stroke-width="1.2" stroke-linejoin="round" stroke-dasharray="0.9,0.9"/>
<path d="M354.90,242.20 L356.50,222.00 L358.40,195.00 L359.80,172.00 L361.40,158.90 L362.80,168.00 L364.20,182.00 L365.30,195.00 L367.00,206.50 L368.80,218.10 L372.20,229.60 L376.80,235.40 L384.90,238.80 L394.10,239.40 L398.70,240.00 L402.00,241.20 L405.10,242.20" fill="none" stroke="#8e1a40" stroke-width="1.15" stroke-linejoin="round"/>
<rect x="50.50" y="151.90" width="92.80" height="90.60" fill="none" stroke="#0a0a0a" stroke-width="1.4"/>
<rect x="148.50" y="151.90" width="93.00" height="90.60" fill="none" stroke="#0a0a0a" stroke-width="1.4"/>
<rect x="246.50" y="151.90" width="93.00" height="90.60" fill="none" stroke="#0a0a0a" stroke-width="1.4"/>
<rect x="344.70" y="151.90" width="92.80" height="90.60" fill="none" stroke="#0a0a0a" stroke-width="1.4"/>
<path d="M91.70,208.60 L91.70,204.30 L122.40,204.30 L122.40,208.60" fill="none" stroke="#222" stroke-width="1.0" stroke-linejoin="round"/>
<text x="96.05" y="200.2" font-size="7.1" fill="#222" stroke="#222" stroke-width="0.22" textLength="20.0" lengthAdjust="spacingAndGlyphs">HO-1<tspan font-size="4.6" dy="-3.4">hi</tspan></text>
<path d="M193.10,208.60 L193.10,204.30 L224.20,204.30 L224.20,208.60" fill="none" stroke="#222" stroke-width="1.0" stroke-linejoin="round"/>
<text x="197.65" y="200.2" font-size="7.1" fill="#222" stroke="#222" stroke-width="0.22" textLength="20.0" lengthAdjust="spacingAndGlyphs">HO-1<tspan font-size="4.6" dy="-3.4">hi</tspan></text>
<path d="M291.00,208.60 L291.00,204.30 L321.80,204.30 L321.80,208.60" fill="none" stroke="#222" stroke-width="1.0" stroke-linejoin="round"/>
<text x="295.40" y="200.2" font-size="7.1" fill="#222" stroke="#222" stroke-width="0.22" textLength="20.0" lengthAdjust="spacingAndGlyphs">HO-1<tspan font-size="4.6" dy="-3.4">hi</tspan></text>
<path d="M386.20,208.60 L386.20,204.30 L417.00,204.30 L417.00,208.60" fill="none" stroke="#222" stroke-width="1.0" stroke-linejoin="round"/>
<text x="390.60" y="200.2" font-size="7.1" fill="#222" stroke="#222" stroke-width="0.22" textLength="20.0" lengthAdjust="spacingAndGlyphs">HO-1<tspan font-size="4.6" dy="-3.4">hi</tspan></text>
<text x="7.61" y="292.30" font-size="11.2" textLength="8.71" lengthAdjust="spacingAndGlyphs" font-weight="bold" fill="#000">C</text>
<text x="114.50" y="303.00" font-size="9.6" textLength="87.50" lengthAdjust="spacingAndGlyphs" stroke="#231f20" stroke-width="0.18">Patrolling monocyte</text>
<line x1="63.50" y1="309.00" x2="63.50" y2="405.70" stroke="#161616" stroke-width="1.45"/>
<line x1="60.10" y1="405.00" x2="63.50" y2="405.00" stroke="#161616" stroke-width="1.2"/>
<text x="57.20" y="408.00" font-size="8.5" textLength="4.40" lengthAdjust="spacingAndGlyphs" text-anchor="end" fill="#333" stroke="#333" stroke-width="0.18">0</text>
<line x1="60.10" y1="374.00" x2="63.50" y2="374.00" stroke="#161616" stroke-width="1.2"/>
<text x="57.20" y="377.00" font-size="8.5" textLength="8.90" lengthAdjust="spacingAndGlyphs" text-anchor="end" fill="#333" stroke="#333" stroke-width="0.18">20</text>
<line x1="60.10" y1="343.00" x2="63.50" y2="343.00" stroke="#161616" stroke-width="1.2"/>
<text x="57.20" y="346.00" font-size="8.5" textLength="8.90" lengthAdjust="spacingAndGlyphs" text-anchor="end" fill="#333" stroke="#333" stroke-width="0.18">40</text>
<line x1="60.10" y1="312.00" x2="63.50" y2="312.00" stroke="#161616" stroke-width="1.2"/>
<text x="57.20" y="315.00" font-size="8.5" textLength="8.90" lengthAdjust="spacingAndGlyphs" text-anchor="end" fill="#333" stroke="#333" stroke-width="0.18">60</text>
<text x="30.10" y="371.80" font-size="8.9" fill="#2a2a2a" stroke="#2a2a2a" stroke-width="0.25" transform="rotate(-90 30.10 371.80)" textLength="22.2" lengthAdjust="spacingAndGlyphs">%HO-1</text>
<text x="26.80" y="349.90" font-size="6.6" fill="#2a2a2a" stroke="#2a2a2a" stroke-width="0.12" transform="rotate(-90 26.80 349.90)" textLength="5.6" lengthAdjust="spacingAndGlyphs">hi</text>
<text x="42.70" y="357.50" font-size="8.7" textLength="69.60" lengthAdjust="spacingAndGlyphs" text-anchor="middle" fill="#2a2a2a" stroke="#2a2a2a" stroke-width="0.18" transform="rotate(-90 42.70 357.50)">patrolling monocyte</text>
<line x1="62.80" y1="405.00" x2="253.50" y2="405.00" stroke="#161616" stroke-width="1.45"/>
<line x1="79.10" y1="405.00" x2="79.10" y2="408.00" stroke="#161616" stroke-width="1.2"/>
<text x="79.10" y="417.50" font-size="8.5" textLength="4.40" lengthAdjust="spacingAndGlyphs" text-anchor="middle" fill="#333" stroke="#333" stroke-width="0.18">0</text>
<line x1="110.50" y1="405.00" x2="110.50" y2="408.00" stroke="#161616" stroke-width="1.2"/>
<text x="110.50" y="417.50" font-size="8.5" textLength="4.40" lengthAdjust="spacingAndGlyphs" text-anchor="middle" fill="#333" stroke="#333" stroke-width="0.18">5</text>
<line x1="141.80" y1="405.00" x2="141.80" y2="408.00" stroke="#161616" stroke-width="1.2"/>
<text x="141.80" y="417.50" font-size="8.5" textLength="9.10" lengthAdjust="spacingAndGlyphs" text-anchor="middle" fill="#333" stroke="#333" stroke-width="0.18">20</text>
<line x1="173.40" y1="405.00" x2="173.40" y2="408.00" stroke="#161616" stroke-width="1.2"/>
<text x="173.40" y="417.50" font-size="8.5" textLength="4.40" lengthAdjust="spacingAndGlyphs" text-anchor="middle" fill="#333" stroke="#333" stroke-width="0.18">0</text>
<line x1="204.80" y1="405.00" x2="204.80" y2="408.00" stroke="#161616" stroke-width="1.2"/>
<text x="204.80" y="417.50" font-size="8.5" textLength="4.40" lengthAdjust="spacingAndGlyphs" text-anchor="middle" fill="#333" stroke="#333" stroke-width="0.18">5</text>
<line x1="236.40" y1="405.00" x2="236.40" y2="408.00" stroke="#161616" stroke-width="1.2"/>
<text x="236.40" y="417.50" font-size="8.5" textLength="9.10" lengthAdjust="spacingAndGlyphs" text-anchor="middle" fill="#333" stroke="#333" stroke-width="0.18">20</text>
<line x1="70.80" y1="421.20" x2="147.30" y2="421.20" stroke="#161616" stroke-width="1.45"/>
<line x1="163.70" y1="421.20" x2="253.80" y2="421.20" stroke="#161616" stroke-width="1.45"/>
<text x="90.10" y="432.20" font-size="9.5" textLength="38.30" lengthAdjust="spacingAndGlyphs" fill="#333" stroke="#333" stroke-width="0.18">Hemin/μM</text>
<text x="171.40" y="432.20" font-size="9.5" textLength="75.00" lengthAdjust="spacingAndGlyphs" fill="#333" stroke="#333" stroke-width="0.18">Hemin treated HUVEC</text>
<path d="M79.10,399.11 L110.50,396.63 L141.80,396.32" fill="none" stroke="#aa0e3a" stroke-width="1.6" stroke-linejoin="round"/>
<rect x="77.20" y="397.21" width="3.8" height="3.8" fill="#aa0e3a"/>
<rect x="108.60" y="394.73" width="3.8" height="3.8" fill="#aa0e3a"/>
<rect x="139.90" y="394.42" width="3.8" height="3.8" fill="#aa0e3a"/>
<path d="M79.10,399.73 L110.50,397.87 L141.80,397.25" fill="none" stroke="#aa0e3a" stroke-width="1.6" stroke-linejoin="round"/>
<rect x="77.20" y="397.83" width="3.8" height="3.8" fill="#aa0e3a"/>
<rect x="108.60" y="395.97" width="3.8" height="3.8" fill="#aa0e3a"/>
<rect x="139.90" y="395.35" width="3.8" height="3.8" fill="#aa0e3a"/>
<path d="M79.10,401.90 L110.50,400.35 L141.80,399.73" fill="none" stroke="#aa0e3a" stroke-width="1.6" stroke-linejoin="round"/>
<rect x="77.20" y="400.00" width="3.8" height="3.8" fill="#aa0e3a"/>
<rect x="108.60" y="398.45" width="3.8" height="3.8" fill="#aa0e3a"/>
<rect x="139.90" y="397.83" width="3.8" height="3.8" fill="#aa0e3a"/>
<path d="M79.10,402.83 L110.50,402.21 L141.80,401.59" fill="none" stroke="#aa0e3a" stroke-width="1.6" stroke-linejoin="round"/>
<rect x="77.20" y="400.93" width="3.8" height="3.8" fill="#aa0e3a"/>
<rect x="108.60" y="400.31" width="3.8" height="3.8" fill="#aa0e3a"/>
<rect x="139.90" y="399.69" width="3.8" height="3.8" fill="#aa0e3a"/>
<path d="M79.10,398.49 L110.50,396.94 L141.80,396.01" fill="none" stroke="#aa0e3a" stroke-width="1.6" stroke-linejoin="round"/>
<rect x="77.20" y="396.59" width="3.8" height="3.8" fill="#aa0e3a"/>
<rect x="108.60" y="395.04" width="3.8" height="3.8" fill="#aa0e3a"/>
<rect x="139.90" y="394.11" width="3.8" height="3.8" fill="#aa0e3a"/>
<path d="M79.10,403.14 L110.50,402.68 L141.80,402.06" fill="none" stroke="#aa0e3a" stroke-width="1.6" stroke-linejoin="round"/>
<rect x="77.20" y="401.24" width="3.8" height="3.8" fill="#aa0e3a"/>
<rect x="108.60" y="400.78" width="3.8" height="3.8" fill="#aa0e3a"/>
<rect x="139.90" y="400.16" width="3.8" height="3.8" fill="#aa0e3a"/>
<path d="M79.10,400.97 L110.50,399.42 L141.80,398.49" fill="none" stroke="#aa0e3a" stroke-width="1.6" stroke-linejoin="round"/>
<rect x="77.20" y="399.07" width="3.8" height="3.8" fill="#aa0e3a"/>
<rect x="108.60" y="397.52" width="3.8" height="3.8" fill="#aa0e3a"/>
<rect x="139.90" y="396.59" width="3.8" height="3.8" fill="#aa0e3a"/>
<path d="M79.10,402.37 L110.50,401.44 L141.80,400.66" fill="none" stroke="#aa0e3a" stroke-width="1.6" stroke-linejoin="round"/>
<rect x="77.20" y="400.47" width="3.8" height="3.8" fill="#aa0e3a"/>
<rect x="108.60" y="399.54" width="3.8" height="3.8" fill="#aa0e3a"/>
<rect x="139.90" y="398.76" width="3.8" height="3.8" fill="#aa0e3a"/>
<path d="M173.40,401.28 L204.80,397.56 L236.40,362.22" fill="none" stroke="#aa0e3a" stroke-width="1.6" stroke-linejoin="round"/>
<circle cx="173.40" cy="401.28" r="2.0" fill="#aa0e3a"/>
<circle cx="204.80" cy="397.56" r="2.0" fill="#aa0e3a"/>
<circle cx="236.40" cy="362.22" r="2.0" fill="#aa0e3a"/>
<path d="M173.40,400.35 L204.80,398.80 L236.40,371.37" fill="none" stroke="#aa0e3a" stroke-width="1.6" stroke-linejoin="round"/>
<circle cx="173.40" cy="400.35" r="2.0" fill="#aa0e3a"/>
<circle cx="204.80" cy="398.80" r="2.0" fill="#aa0e3a"/>
<circle cx="236.40" cy="371.37" r="2.0" fill="#aa0e3a"/>
<path d="M173.40,401.90 L204.80,398.02 L236.40,373.23" fill="none" stroke="#aa0e3a" stroke-width="1.6" stroke-linejoin="round"/>
<circle cx="173.40" cy="401.90" r="2.0" fill="#aa0e3a"/>
<circle cx="204.80" cy="398.02" r="2.0" fill="#aa0e3a"/>
<circle cx="236.40" cy="373.23" r="2.0" fill="#aa0e3a"/>
<path d="M173.40,402.68 L204.80,399.42 L236.40,375.55" fill="none" stroke="#aa0e3a" stroke-width="1.6" stroke-linejoin="round"/>
<circle cx="173.40" cy="402.68" r="2.0" fill="#aa0e3a"/>
<circle cx="204.80" cy="399.42" r="2.0" fill="#aa0e3a"/>
<circle cx="236.40" cy="375.55" r="2.0" fill="#aa0e3a"/>
<path d="M173.40,400.97 L204.80,396.94 L236.40,377.10" fill="none" stroke="#aa0e3a" stroke-width="1.6" stroke-linejoin="round"/>
<circle cx="173.40" cy="400.97" r="2.0" fill="#aa0e3a"/>
<circle cx="204.80" cy="396.94" r="2.0" fill="#aa0e3a"/>
<circle cx="236.40" cy="377.10" r="2.0" fill="#aa0e3a"/>
<path d="M173.40,402.21 L204.80,400.04 L236.40,380.20" fill="none" stroke="#aa0e3a" stroke-width="1.6" stroke-linejoin="round"/>
<circle cx="173.40" cy="402.21" r="2.0" fill="#aa0e3a"/>
<circle cx="204.80" cy="400.04" r="2.0" fill="#aa0e3a"/>
<circle cx="236.40" cy="380.20" r="2.0" fill="#aa0e3a"/>
<path d="M173.40,401.59 L204.80,398.95 L236.40,381.75" fill="none" stroke="#aa0e3a" stroke-width="1.6" stroke-linejoin="round"/>
<circle cx="173.40" cy="401.59" r="2.0" fill="#aa0e3a"/>
<circle cx="204.80" cy="398.95" r="2.0" fill="#aa0e3a"/>
<circle cx="236.40" cy="381.75" r="2.0" fill="#aa0e3a"/>
<path d="M173.40,402.52 L204.80,398.49 L236.40,383.76" fill="none" stroke="#aa0e3a" stroke-width="1.6" stroke-linejoin="round"/>
<circle cx="173.40" cy="402.52" r="2.0" fill="#aa0e3a"/>
<circle cx="204.80" cy="398.49" r="2.0" fill="#aa0e3a"/>
<circle cx="236.40" cy="383.76" r="2.0" fill="#aa0e3a"/>
<circle cx="140.10" cy="387.20" r="1.2" fill="#1a1a1a"/>
<circle cx="143.50" cy="387.20" r="1.2" fill="#1a1a1a"/>
<circle cx="203.10" cy="383.50" r="1.2" fill="#1a1a1a"/>
<circle cx="206.50" cy="383.50" r="1.2" fill="#1a1a1a"/>
<circle cx="233.00" cy="355.80" r="1.2" fill="#1a1a1a"/>
<circle cx="236.40" cy="355.80" r="1.2" fill="#1a1a1a"/>
<circle cx="239.80" cy="355.80" r="1.2" fill="#1a1a1a"/>
<path d="M138.90,347.60 L138.90,343.00 L233.60,343.00 L233.60,347.60" fill="none" stroke="#1a1a1a" stroke-width="1.3" stroke-linejoin="round"/>
<circle cx="182.60" cy="339.10" r="1.2" fill="#1a1a1a"/>
<circle cx="186.00" cy="339.10" r="1.2" fill="#1a1a1a"/>
<circle cx="189.40" cy="339.10" r="1.2" fill="#1a1a1a"/>
<text x="267.90" y="291.90" font-size="11.2" textLength="9.63" lengthAdjust="spacingAndGlyphs" font-weight="bold" fill="#000">D</text>
<text x="375.50" y="303.00" font-size="9.6" textLength="83.20" lengthAdjust="spacingAndGlyphs" stroke="#231f20" stroke-width="0.18">Classical monocyte</text>
<line x1="322.90" y1="309.00" x2="322.90" y2="405.70" stroke="#161616" stroke-width="1.45"/>
<line x1="319.50" y1="405.00" x2="322.90" y2="405.00" stroke="#161616" stroke-width="1.2"/>
<text x="316.60" y="408.00" font-size="8.5" textLength="4.40" lengthAdjust="spacingAndGlyphs" text-anchor="end" fill="#333" stroke="#333" stroke-width="0.18">0</text>
<line x1="319.50" y1="374.00" x2="322.90" y2="374.00" stroke="#161616" stroke-width="1.2"/>
<text x="316.60" y="377.00" font-size="8.5" textLength="8.90" lengthAdjust="spacingAndGlyphs" text-anchor="end" fill="#333" stroke="#333" stroke-width="0.18">20</text>
<line x1="319.50" y1="343.00" x2="322.90" y2="343.00" stroke="#161616" stroke-width="1.2"/>
<text x="316.60" y="346.00" font-size="8.5" textLength="8.90" lengthAdjust="spacingAndGlyphs" text-anchor="end" fill="#333" stroke="#333" stroke-width="0.18">40</text>
<line x1="319.50" y1="312.00" x2="322.90" y2="312.00" stroke="#161616" stroke-width="1.2"/>
<text x="316.60" y="315.00" font-size="8.5" textLength="8.90" lengthAdjust="spacingAndGlyphs" text-anchor="end" fill="#333" stroke="#333" stroke-width="0.18">60</text>
<text x="289.50" y="371.80" font-size="8.9" fill="#2a2a2a" stroke="#2a2a2a" stroke-width="0.25" transform="rotate(-90 289.50 371.80)" textLength="22.2" lengthAdjust="spacingAndGlyphs">%HO-1</text>
<text x="286.20" y="349.90" font-size="6.6" fill="#2a2a2a" stroke="#2a2a2a" stroke-width="0.12" transform="rotate(-90 286.20 349.90)" textLength="5.6" lengthAdjust="spacingAndGlyphs">hi</text>
<text x="302.10" y="357.50" font-size="8.7" textLength="62.50" lengthAdjust="spacingAndGlyphs" text-anchor="middle" fill="#2a2a2a" stroke="#2a2a2a" stroke-width="0.18" transform="rotate(-90 302.10 357.50)">classical monocyte</text>
<line x1="322.20" y1="405.00" x2="512.90" y2="405.00" stroke="#161616" stroke-width="1.45"/>
<line x1="338.50" y1="405.00" x2="338.50" y2="408.00" stroke="#161616" stroke-width="1.2"/>
<text x="338.50" y="417.50" font-size="8.5" textLength="4.40" lengthAdjust="spacingAndGlyphs" text-anchor="middle" fill="#333" stroke="#333" stroke-width="0.18">0</text>
<line x1="369.90" y1="405.00" x2="369.90" y2="408.00" stroke="#161616" stroke-width="1.2"/>
<text x="369.90" y="417.50" font-size="8.5" textLength="4.40" lengthAdjust="spacingAndGlyphs" text-anchor="middle" fill="#333" stroke="#333" stroke-width="0.18">5</text>
<line x1="401.20" y1="405.00" x2="401.20" y2="408.00" stroke="#161616" stroke-width="1.2"/>
<text x="401.20" y="417.50" font-size="8.5" textLength="9.10" lengthAdjust="spacingAndGlyphs" text-anchor="middle" fill="#333" stroke="#333" stroke-width="0.18">20</text>
<line x1="432.80" y1="405.00" x2="432.80" y2="408.00" stroke="#161616" stroke-width="1.2"/>
<text x="432.80" y="417.50" font-size="8.5" textLength="4.40" lengthAdjust="spacingAndGlyphs" text-anchor="middle" fill="#333" stroke="#333" stroke-width="0.18">0</text>
<line x1="464.20" y1="405.00" x2="464.20" y2="408.00" stroke="#161616" stroke-width="1.2"/>
<text x="464.20" y="417.50" font-size="8.5" textLength="4.40" lengthAdjust="spacingAndGlyphs" text-anchor="middle" fill="#333" stroke="#333" stroke-width="0.18">5</text>
<line x1="495.80" y1="405.00" x2="495.80" y2="408.00" stroke="#161616" stroke-width="1.2"/>
<text x="495.80" y="417.50" font-size="8.5" textLength="9.10" lengthAdjust="spacingAndGlyphs" text-anchor="middle" fill="#333" stroke="#333" stroke-width="0.18">20</text>
<line x1="330.20" y1="421.20" x2="406.70" y2="421.20" stroke="#161616" stroke-width="1.45"/>
<line x1="423.10" y1="421.20" x2="513.20" y2="421.20" stroke="#161616" stroke-width="1.45"/>
<text x="349.50" y="432.20" font-size="9.5" textLength="38.30" lengthAdjust="spacingAndGlyphs" fill="#333" stroke="#333" stroke-width="0.18">Hemin/μM</text>
<text x="430.80" y="432.20" font-size="9.5" textLength="75.00" lengthAdjust="spacingAndGlyphs" fill="#333" stroke="#333" stroke-width="0.18">Hemin treated HUVEC</text>
<path d="M338.50,404.07 L369.90,403.45 L401.20,399.57" fill="none" stroke="#aa0e3a" stroke-width="1.6" stroke-linejoin="round"/>
<rect x="336.60" y="402.17" width="3.8" height="3.8" fill="#aa0e3a"/>
<rect x="368.00" y="401.55" width="3.8" height="3.8" fill="#aa0e3a"/>
<rect x="399.30" y="397.68" width="3.8" height="3.8" fill="#aa0e3a"/>
<path d="M338.50,402.83 L369.90,402.21 L401.20,397.87" fill="none" stroke="#aa0e3a" stroke-width="1.6" stroke-linejoin="round"/>
<rect x="336.60" y="400.93" width="3.8" height="3.8" fill="#aa0e3a"/>
<rect x="368.00" y="400.31" width="3.8" height="3.8" fill="#aa0e3a"/>
<rect x="399.30" y="395.97" width="3.8" height="3.8" fill="#aa0e3a"/>
<path d="M338.50,404.54 L369.90,404.23 L401.20,401.90" fill="none" stroke="#aa0e3a" stroke-width="1.6" stroke-linejoin="round"/>
<rect x="336.60" y="402.64" width="3.8" height="3.8" fill="#aa0e3a"/>
<rect x="368.00" y="402.33" width="3.8" height="3.8" fill="#aa0e3a"/>
<rect x="399.30" y="400.00" width="3.8" height="3.8" fill="#aa0e3a"/>
<path d="M338.50,401.90 L369.90,401.59 L401.20,397.25" fill="none" stroke="#aa0e3a" stroke-width="1.6" stroke-linejoin="round"/>
<rect x="336.60" y="400.00" width="3.8" height="3.8" fill="#aa0e3a"/>
<rect x="368.00" y="399.69" width="3.8" height="3.8" fill="#aa0e3a"/>
<rect x="399.30" y="395.35" width="3.8" height="3.8" fill="#aa0e3a"/>
<path d="M338.50,403.61 L369.90,402.83 L401.20,400.35" fill="none" stroke="#aa0e3a" stroke-width="1.6" stroke-linejoin="round"/>
<rect x="336.60" y="401.71" width="3.8" height="3.8" fill="#aa0e3a"/>
<rect x="368.00" y="400.93" width="3.8" height="3.8" fill="#aa0e3a"/>
<rect x="399.30" y="398.45" width="3.8" height="3.8" fill="#aa0e3a"/>
<path d="M338.50,404.69 L369.90,404.38 L401.20,403.14" fill="none" stroke="#aa0e3a" stroke-width="1.6" stroke-linejoin="round"/>
<rect x="336.60" y="402.79" width="3.8" height="3.8" fill="#aa0e3a"/>
<rect x="368.00" y="402.48" width="3.8" height="3.8" fill="#aa0e3a"/>
<rect x="399.30" y="401.24" width="3.8" height="3.8" fill="#aa0e3a"/>
<path d="M432.80,404.38 L464.20,403.76 L495.80,400.66" fill="none" stroke="#aa0e3a" stroke-width="1.6" stroke-linejoin="round"/>
<circle cx="432.80" cy="404.38" r="2.0" fill="#aa0e3a"/>
<circle cx="464.20" cy="403.76" r="2.0" fill="#aa0e3a"/>
<circle cx="495.80" cy="400.66" r="2.0" fill="#aa0e3a"/>
<path d="M432.80,404.23 L464.20,403.45 L495.80,400.04" fill="none" stroke="#aa0e3a" stroke-width="1.6" stroke-linejoin="round"/>
<circle cx="432.80" cy="404.23" r="2.0" fill="#aa0e3a"/>
<circle cx="464.20" cy="403.45" r="2.0" fill="#aa0e3a"/>
<circle cx="495.80" cy="400.04" r="2.0" fill="#aa0e3a"/>
<path d="M432.80,404.54 L464.20,404.07 L495.80,401.59" fill="none" stroke="#aa0e3a" stroke-width="1.6" stroke-linejoin="round"/>
<circle cx="432.80" cy="404.54" r="2.0" fill="#aa0e3a"/>
<circle cx="464.20" cy="404.07" r="2.0" fill="#aa0e3a"/>
<circle cx="495.80" cy="401.59" r="2.0" fill="#aa0e3a"/>
<path d="M432.80,403.92 L464.20,403.14 L495.80,399.42" fill="none" stroke="#aa0e3a" stroke-width="1.6" stroke-linejoin="round"/>
<circle cx="432.80" cy="403.92" r="2.0" fill="#aa0e3a"/>
<circle cx="464.20" cy="403.14" r="2.0" fill="#aa0e3a"/>
<circle cx="495.80" cy="399.42" r="2.0" fill="#aa0e3a"/>
<path d="M432.80,404.07 L464.20,403.92 L495.80,402.21" fill="none" stroke="#aa0e3a" stroke-width="1.6" stroke-linejoin="round"/>
<circle cx="432.80" cy="404.07" r="2.0" fill="#aa0e3a"/>
<circle cx="464.20" cy="403.92" r="2.0" fill="#aa0e3a"/>
<circle cx="495.80" cy="402.21" r="2.0" fill="#aa0e3a"/>
<path d="M432.80,404.69 L464.20,404.38 L495.80,403.14" fill="none" stroke="#aa0e3a" stroke-width="1.6" stroke-linejoin="round"/>
<circle cx="432.80" cy="404.69" r="2.0" fill="#aa0e3a"/>
<circle cx="464.20" cy="404.38" r="2.0" fill="#aa0e3a"/>
<circle cx="495.80" cy="403.14" r="2.0" fill="#aa0e3a"/>
<circle cx="366.50" cy="393.60" r="1.2" fill="#1a1a1a"/>
<circle cx="369.90" cy="393.60" r="1.2" fill="#1a1a1a"/>
<circle cx="373.30" cy="393.60" r="1.2" fill="#1a1a1a"/>
<circle cx="397.80" cy="387.00" r="1.2" fill="#1a1a1a"/>
<circle cx="401.20" cy="387.00" r="1.2" fill="#1a1a1a"/>
<circle cx="404.60" cy="387.00" r="1.2" fill="#1a1a1a"/>
<circle cx="464.20" cy="396.00" r="1.2" fill="#1a1a1a"/>
<circle cx="495.80" cy="390.90" r="1.2" fill="#1a1a1a"/>
<text x="8.08" y="457.50" font-size="11.2" textLength="7.25" lengthAdjust="spacingAndGlyphs" font-weight="bold" fill="#000">E</text>
<line x1="63.30" y1="461.00" x2="63.30" y2="557.70" stroke="#161616" stroke-width="1.45"/>
<line x1="59.90" y1="557.00" x2="63.30" y2="557.00" stroke="#161616" stroke-width="1.2"/>
<text x="57.00" y="560.00" font-size="8.5" textLength="4.40" lengthAdjust="spacingAndGlyphs" text-anchor="end" fill="#333" stroke="#333" stroke-width="0.18">0</text>
<line x1="59.90" y1="526.00" x2="63.30" y2="526.00" stroke="#161616" stroke-width="1.2"/>
<text x="57.00" y="529.00" font-size="8.5" textLength="8.90" lengthAdjust="spacingAndGlyphs" text-anchor="end" fill="#333" stroke="#333" stroke-width="0.18">20</text>
<line x1="59.90" y1="495.00" x2="63.30" y2="495.00" stroke="#161616" stroke-width="1.2"/>
<text x="57.00" y="498.00" font-size="8.5" textLength="8.90" lengthAdjust="spacingAndGlyphs" text-anchor="end" fill="#333" stroke="#333" stroke-width="0.18">40</text>
<line x1="59.90" y1="464.00" x2="63.30" y2="464.00" stroke="#161616" stroke-width="1.2"/>
<text x="57.00" y="467.00" font-size="8.5" textLength="8.90" lengthAdjust="spacingAndGlyphs" text-anchor="end" fill="#333" stroke="#333" stroke-width="0.18">60</text>
<text x="29.90" y="523.80" font-size="8.9" fill="#2a2a2a" stroke="#2a2a2a" stroke-width="0.25" transform="rotate(-90 29.90 523.80)" textLength="22.2" lengthAdjust="spacingAndGlyphs">%HO-1</text>
<text x="26.60" y="501.90" font-size="6.6" fill="#2a2a2a" stroke="#2a2a2a" stroke-width="0.12" transform="rotate(-90 26.60 501.90)" textLength="5.6" lengthAdjust="spacingAndGlyphs">hi</text>
<text x="42.50" y="509.50" font-size="8.7" textLength="68.80" lengthAdjust="spacingAndGlyphs" text-anchor="middle" fill="#2a2a2a" stroke="#2a2a2a" stroke-width="0.18" transform="rotate(-90 42.50 509.50)">patrolling monocyte</text>
<line x1="62.60" y1="557.00" x2="253.30" y2="557.00" stroke="#161616" stroke-width="1.45"/>
<line x1="78.90" y1="557.00" x2="78.90" y2="560.00" stroke="#161616" stroke-width="1.2"/>
<text x="78.90" y="569.50" font-size="8.5" textLength="4.40" lengthAdjust="spacingAndGlyphs" text-anchor="middle" fill="#333" stroke="#333" stroke-width="0.18">0</text>
<line x1="110.30" y1="557.00" x2="110.30" y2="560.00" stroke="#161616" stroke-width="1.2"/>
<text x="110.30" y="569.50" font-size="8.5" textLength="4.40" lengthAdjust="spacingAndGlyphs" text-anchor="middle" fill="#333" stroke="#333" stroke-width="0.18">5</text>
<line x1="141.60" y1="557.00" x2="141.60" y2="560.00" stroke="#161616" stroke-width="1.2"/>
<text x="141.60" y="569.50" font-size="8.5" textLength="9.10" lengthAdjust="spacingAndGlyphs" text-anchor="middle" fill="#333" stroke="#333" stroke-width="0.18">20</text>
<line x1="173.20" y1="557.00" x2="173.20" y2="560.00" stroke="#161616" stroke-width="1.2"/>
<text x="173.20" y="569.50" font-size="8.5" textLength="4.40" lengthAdjust="spacingAndGlyphs" text-anchor="middle" fill="#333" stroke="#333" stroke-width="0.18">0</text>
<line x1="204.60" y1="557.00" x2="204.60" y2="560.00" stroke="#161616" stroke-width="1.2"/>
<text x="204.60" y="569.50" font-size="8.5" textLength="4.40" lengthAdjust="spacingAndGlyphs" text-anchor="middle" fill="#333" stroke="#333" stroke-width="0.18">5</text>
<line x1="236.20" y1="557.00" x2="236.20" y2="560.00" stroke="#161616" stroke-width="1.2"/>
<text x="236.20" y="569.50" font-size="8.5" textLength="9.10" lengthAdjust="spacingAndGlyphs" text-anchor="middle" fill="#333" stroke="#333" stroke-width="0.18">20</text>
<line x1="70.60" y1="573.20" x2="147.10" y2="573.20" stroke="#161616" stroke-width="1.45"/>
<line x1="163.50" y1="573.20" x2="253.60" y2="573.20" stroke="#161616" stroke-width="1.45"/>
<text x="89.90" y="584.20" font-size="9.5" textLength="38.30" lengthAdjust="spacingAndGlyphs" fill="#333" stroke="#333" stroke-width="0.18">Hemin/μM</text>
<text x="171.20" y="584.20" font-size="9.5" textLength="75.00" lengthAdjust="spacingAndGlyphs" fill="#333" stroke="#333" stroke-width="0.18">Hemin treated HUVEC</text>
<path d="M78.90,493.76 L110.30,492.52 L141.60,491.44" fill="none" stroke="#aa0e3a" stroke-width="1.6" stroke-linejoin="round"/>
<rect x="77.00" y="491.86" width="3.8" height="3.8" fill="#aa0e3a"/>
<rect x="108.40" y="490.62" width="3.8" height="3.8" fill="#aa0e3a"/>
<rect x="139.70" y="489.54" width="3.8" height="3.8" fill="#aa0e3a"/>
<path d="M78.90,510.35 L110.30,508.80 L141.60,510.35" fill="none" stroke="#aa0e3a" stroke-width="1.6" stroke-linejoin="round"/>
<rect x="77.00" y="508.45" width="3.8" height="3.8" fill="#aa0e3a"/>
<rect x="108.40" y="506.90" width="3.8" height="3.8" fill="#aa0e3a"/>
<rect x="139.70" y="508.45" width="3.8" height="3.8" fill="#aa0e3a"/>
<path d="M78.90,510.35 L110.30,512.36 L141.60,509.57" fill="none" stroke="#aa0e3a" stroke-width="1.6" stroke-linejoin="round"/>
<rect x="77.00" y="508.45" width="3.8" height="3.8" fill="#aa0e3a"/>
<rect x="108.40" y="510.46" width="3.8" height="3.8" fill="#aa0e3a"/>
<rect x="139.70" y="507.67" width="3.8" height="3.8" fill="#aa0e3a"/>
<path d="M78.90,523.83 L110.30,523.83 L141.60,522.28" fill="none" stroke="#aa0e3a" stroke-width="1.6" stroke-linejoin="round"/>
<rect x="77.00" y="521.93" width="3.8" height="3.8" fill="#aa0e3a"/>
<rect x="108.40" y="521.93" width="3.8" height="3.8" fill="#aa0e3a"/>
<rect x="139.70" y="520.38" width="3.8" height="3.8" fill="#aa0e3a"/>
<path d="M78.90,524.45 L110.30,525.07 L141.60,523.52" fill="none" stroke="#aa0e3a" stroke-width="1.6" stroke-linejoin="round"/>
<rect x="77.00" y="522.55" width="3.8" height="3.8" fill="#aa0e3a"/>
<rect x="108.40" y="523.17" width="3.8" height="3.8" fill="#aa0e3a"/>
<rect x="139.70" y="521.62" width="3.8" height="3.8" fill="#aa0e3a"/>
<path d="M78.90,526.31 L110.30,526.93 L141.60,526.62" fill="none" stroke="#aa0e3a" stroke-width="1.6" stroke-linejoin="round"/>
<rect x="77.00" y="524.41" width="3.8" height="3.8" fill="#aa0e3a"/>
<rect x="108.40" y="525.03" width="3.8" height="3.8" fill="#aa0e3a"/>
<rect x="139.70" y="524.72" width="3.8" height="3.8" fill="#aa0e3a"/>
<path d="M78.90,527.71 L110.30,527.39 L141.60,527.86" fill="none" stroke="#aa0e3a" stroke-width="1.6" stroke-linejoin="round"/>
<rect x="77.00" y="525.81" width="3.8" height="3.8" fill="#aa0e3a"/>
<rect x="108.40" y="525.50" width="3.8" height="3.8" fill="#aa0e3a"/>
<rect x="139.70" y="525.96" width="3.8" height="3.8" fill="#aa0e3a"/>
<path d="M78.90,538.25 L110.30,539.64 L141.60,536.70" fill="none" stroke="#aa0e3a" stroke-width="1.6" stroke-linejoin="round"/>
<rect x="77.00" y="536.35" width="3.8" height="3.8" fill="#aa0e3a"/>
<rect x="108.40" y="537.74" width="3.8" height="3.8" fill="#aa0e3a"/>
<rect x="139.70" y="534.80" width="3.8" height="3.8" fill="#aa0e3a"/>
<path d="M173.20,494.54 L204.60,491.28 L236.20,468.65" fill="none" stroke="#aa0e3a" stroke-width="1.6" stroke-linejoin="round"/>
<circle cx="173.20" cy="494.54" r="2.0" fill="#aa0e3a"/>
<circle cx="204.60" cy="491.28" r="2.0" fill="#aa0e3a"/>
<circle cx="236.20" cy="468.65" r="2.0" fill="#aa0e3a"/>
<path d="M173.20,509.57 L204.60,502.75 L236.20,481.05" fill="none" stroke="#aa0e3a" stroke-width="1.6" stroke-linejoin="round"/>
<circle cx="173.20" cy="509.57" r="2.0" fill="#aa0e3a"/>
<circle cx="204.60" cy="502.75" r="2.0" fill="#aa0e3a"/>
<circle cx="236.20" cy="481.05" r="2.0" fill="#aa0e3a"/>
<path d="M173.20,512.51 L204.60,509.26 L236.20,497.01" fill="none" stroke="#aa0e3a" stroke-width="1.6" stroke-linejoin="round"/>
<circle cx="173.20" cy="512.51" r="2.0" fill="#aa0e3a"/>
<circle cx="204.60" cy="509.26" r="2.0" fill="#aa0e3a"/>
<circle cx="236.20" cy="497.01" r="2.0" fill="#aa0e3a"/>
<path d="M173.20,522.12 L204.60,519.18 L236.20,468.65" fill="none" stroke="#aa0e3a" stroke-width="1.6" stroke-linejoin="round"/>
<circle cx="173.20" cy="522.12" r="2.0" fill="#aa0e3a"/>
<circle cx="204.60" cy="519.18" r="2.0" fill="#aa0e3a"/>
<circle cx="236.20" cy="468.65" r="2.0" fill="#aa0e3a"/>
<path d="M173.20,523.99 L204.60,521.50 L236.20,486.48" fill="none" stroke="#aa0e3a" stroke-width="1.6" stroke-linejoin="round"/>
<circle cx="173.20" cy="523.99" r="2.0" fill="#aa0e3a"/>
<circle cx="204.60" cy="521.50" r="2.0" fill="#aa0e3a"/>
<circle cx="236.20" cy="486.48" r="2.0" fill="#aa0e3a"/>
<path d="M173.20,526.00 L204.60,522.90 L236.20,501.98" fill="none" stroke="#aa0e3a" stroke-width="1.6" stroke-linejoin="round"/>
<circle cx="173.20" cy="526.00" r="2.0" fill="#aa0e3a"/>
<circle cx="204.60" cy="522.90" r="2.0" fill="#aa0e3a"/>
<circle cx="236.20" cy="501.98" r="2.0" fill="#aa0e3a"/>
<path d="M173.20,528.48 L204.60,523.99 L236.20,500.43" fill="none" stroke="#aa0e3a" stroke-width="1.6" stroke-linejoin="round"/>
<circle cx="173.20" cy="528.48" r="2.0" fill="#aa0e3a"/>
<circle cx="204.60" cy="523.99" r="2.0" fill="#aa0e3a"/>
<circle cx="236.20" cy="500.43" r="2.0" fill="#aa0e3a"/>
<path d="M173.20,538.87 L204.60,522.90 L236.20,483.38" fill="none" stroke="#aa0e3a" stroke-width="1.6" stroke-linejoin="round"/>
<circle cx="173.20" cy="538.87" r="2.0" fill="#aa0e3a"/>
<circle cx="204.60" cy="522.90" r="2.0" fill="#aa0e3a"/>
<circle cx="236.20" cy="483.38" r="2.0" fill="#aa0e3a"/>
<circle cx="232.80" cy="461.50" r="1.2" fill="#1a1a1a"/>
<circle cx="236.20" cy="461.50" r="1.2" fill="#1a1a1a"/>
<circle cx="239.60" cy="461.50" r="1.2" fill="#1a1a1a"/>
<text x="269.20" y="457.60" font-size="11.2" textLength="7.21" lengthAdjust="spacingAndGlyphs" font-weight="bold" fill="#000">F</text>
<line x1="322.00" y1="462.70" x2="322.00" y2="557.70" stroke="#161616" stroke-width="1.45"/>
<line x1="318.60" y1="557.00" x2="322.00" y2="557.00" stroke="#161616" stroke-width="1.2"/>
<text x="316.70" y="560.00" font-size="8.5" textLength="4.40" lengthAdjust="spacingAndGlyphs" text-anchor="end" fill="#333" stroke="#333" stroke-width="0.18">0</text>
<line x1="318.60" y1="538.40" x2="322.00" y2="538.40" stroke="#161616" stroke-width="1.2"/>
<text x="316.70" y="541.40" font-size="8.5" textLength="4.40" lengthAdjust="spacingAndGlyphs" text-anchor="end" fill="#333" stroke="#333" stroke-width="0.18">2</text>
<line x1="318.60" y1="519.80" x2="322.00" y2="519.80" stroke="#161616" stroke-width="1.2"/>
<text x="316.70" y="522.80" font-size="8.5" textLength="4.40" lengthAdjust="spacingAndGlyphs" text-anchor="end" fill="#333" stroke="#333" stroke-width="0.18">4</text>
<line x1="318.60" y1="501.20" x2="322.00" y2="501.20" stroke="#161616" stroke-width="1.2"/>
<text x="316.70" y="504.20" font-size="8.5" textLength="4.40" lengthAdjust="spacingAndGlyphs" text-anchor="end" fill="#333" stroke="#333" stroke-width="0.18">6</text>
<line x1="318.60" y1="482.60" x2="322.00" y2="482.60" stroke="#161616" stroke-width="1.2"/>
<text x="316.70" y="485.60" font-size="8.5" textLength="4.40" lengthAdjust="spacingAndGlyphs" text-anchor="end" fill="#333" stroke="#333" stroke-width="0.18">8</text>
<line x1="318.60" y1="464.00" x2="322.00" y2="464.00" stroke="#161616" stroke-width="1.2"/>
<text x="316.70" y="467.00" font-size="8.5" textLength="8.90" lengthAdjust="spacingAndGlyphs" text-anchor="end" fill="#333" stroke="#333" stroke-width="0.18">10</text>
<text x="290.50" y="523.80" font-size="8.9" fill="#2a2a2a" stroke="#2a2a2a" stroke-width="0.25" transform="rotate(-90 290.50 523.80)" textLength="21.0" lengthAdjust="spacingAndGlyphs">%HO-1</text>
<text x="287.20" y="503.10" font-size="6.6" fill="#2a2a2a" stroke="#2a2a2a" stroke-width="0.12" transform="rotate(-90 287.20 503.10)" textLength="5.6" lengthAdjust="spacingAndGlyphs">hi</text>
<text x="302.80" y="509.50" font-size="8.7" textLength="69.50" lengthAdjust="spacingAndGlyphs" text-anchor="middle" fill="#2a2a2a" stroke="#2a2a2a" stroke-width="0.18" transform="rotate(-90 302.80 509.50)">patrolling monocyte</text>
<line x1="321.30" y1="557.00" x2="463.80" y2="557.00" stroke="#161616" stroke-width="1.45"/>
<line x1="357.50" y1="557.00" x2="357.50" y2="560.00" stroke="#161616" stroke-width="1.2"/>
<line x1="427.80" y1="557.00" x2="427.80" y2="560.00" stroke="#161616" stroke-width="1.2"/>
<text x="357.50" y="570.60" font-size="8.2" textLength="33.00" lengthAdjust="spacingAndGlyphs" text-anchor="middle" fill="#333" stroke="#333" stroke-width="0.18">– HUVEC</text>
<text x="427.80" y="570.60" font-size="8.2" textLength="33.00" lengthAdjust="spacingAndGlyphs" text-anchor="middle" fill="#333" stroke="#333" stroke-width="0.18">+ HUVEC</text>
<circle cx="331.0" cy="468.6" r="1.7" fill="#8c1234"/>
<text x="336.10" y="471.00" font-size="7.7" textLength="27.20" lengthAdjust="spacingAndGlyphs" fill="#2a2a2a" stroke="#2a2a2a" stroke-width="0.18">Medium</text>
<path d="M329.1,476.5 L332.9,476.5 L331.0,479.6 Z" fill="#1f3a50"/>
<text x="336.10" y="480.80" font-size="7.7" textLength="36.60" lengthAdjust="spacingAndGlyphs" fill="#2a2a2a" stroke="#2a2a2a" stroke-width="0.18">RBC lysate</text>
<line x1="332.20" y1="538.87" x2="352.80" y2="538.87" stroke="#aa0e3a" stroke-width="1.3"/>
<line x1="342.50" y1="543.05" x2="342.50" y2="535.14" stroke="#aa0e3a" stroke-width="1.1"/>
<line x1="338.30" y1="543.05" x2="346.70" y2="543.05" stroke="#aa0e3a" stroke-width="1.1"/>
<line x1="338.30" y1="535.14" x2="346.70" y2="535.14" stroke="#aa0e3a" stroke-width="1.1"/>
<circle cx="342.50" cy="531.89" r="1.9" fill="#aa0e3a"/>
<circle cx="345.80" cy="538.40" r="1.9" fill="#aa0e3a"/>
<circle cx="339.70" cy="536.08" r="1.9" fill="#aa0e3a"/>
<circle cx="342.50" cy="549.56" r="1.9" fill="#aa0e3a"/>
<line x1="362.20" y1="532.36" x2="382.80" y2="532.36" stroke="#233d66" stroke-width="1.3"/>
<line x1="372.50" y1="536.54" x2="372.50" y2="528.17" stroke="#233d66" stroke-width="1.1"/>
<line x1="368.30" y1="536.54" x2="376.70" y2="536.54" stroke="#233d66" stroke-width="1.1"/>
<line x1="368.30" y1="528.17" x2="376.70" y2="528.17" stroke="#233d66" stroke-width="1.1"/>
<path d="M370.50,520.42 L374.50,520.42 L372.50,524.02 Z" fill="#233d66"/>
<path d="M372.50,532.05 L376.50,532.05 L374.50,535.65 Z" fill="#233d66"/>
<path d="M368.70,529.26 L372.70,529.26 L370.70,532.86 Z" fill="#233d66"/>
<path d="M370.50,541.81 L374.50,541.81 L372.50,545.41 Z" fill="#233d66"/>
<line x1="402.20" y1="537.93" x2="422.80" y2="537.93" stroke="#aa0e3a" stroke-width="1.3"/>
<line x1="412.50" y1="542.12" x2="412.50" y2="533.28" stroke="#aa0e3a" stroke-width="1.1"/>
<line x1="408.30" y1="542.12" x2="416.70" y2="542.12" stroke="#aa0e3a" stroke-width="1.1"/>
<line x1="408.30" y1="533.28" x2="416.70" y2="533.28" stroke="#aa0e3a" stroke-width="1.1"/>
<circle cx="412.50" cy="527.24" r="1.9" fill="#aa0e3a"/>
<circle cx="410.00" cy="534.68" r="1.9" fill="#aa0e3a"/>
<circle cx="415.00" cy="539.33" r="1.9" fill="#aa0e3a"/>
<circle cx="412.50" cy="549.56" r="1.9" fill="#aa0e3a"/>
<line x1="432.70" y1="492.37" x2="453.30" y2="492.37" stroke="#233d66" stroke-width="1.3"/>
<line x1="443.00" y1="499.34" x2="443.00" y2="485.39" stroke="#233d66" stroke-width="1.1"/>
<line x1="438.80" y1="499.34" x2="447.20" y2="499.34" stroke="#233d66" stroke-width="1.1"/>
<line x1="438.80" y1="485.39" x2="447.20" y2="485.39" stroke="#233d66" stroke-width="1.1"/>
<path d="M441.00,473.46 L445.00,473.46 L443.00,477.06 Z" fill="#233d66"/>
<path d="M441.00,486.48 L445.00,486.48 L443.00,490.08 Z" fill="#233d66"/>
<path d="M441.00,496.71 L445.00,496.71 L443.00,500.31 Z" fill="#233d66"/>
<path d="M441.00,506.01 L445.00,506.01 L443.00,509.61 Z" fill="#233d66"/>
<circle cx="372.50" cy="514.80" r="1.2" fill="#1a1a1a"/>
<circle cx="441.30" cy="467.50" r="1.2" fill="#1a1a1a"/>
<circle cx="444.70" cy="467.50" r="1.2" fill="#1a1a1a"/>
<rect x="0" y="0" width="520" height="1" fill="#000"/>
<rect x="0" y="1" width="520" height="0.5" fill="#000" opacity="0.5"/>
<rect x="0" y="0" width="1" height="595" fill="#000"/>
<rect x="1" y="0" width="1" height="595" fill="#000" opacity="0.45"/>
<rect x="519" y="0" width="1" height="595" fill="#000"/>
<rect x="518" y="0" width="1" height="595" fill="#000" opacity="0.7"/>
<rect x="517" y="0" width="1" height="595" fill="#000" opacity="0.04"/>
<rect x="0" y="594" width="520" height="1" fill="#000"/>
<rect x="0" y="593" width="520" height="1" fill="#000" opacity="0.6"/>
<rect x="0" y="592" width="520" height="1" fill="#000" opacity="0.03"/>
</svg></body></html>
